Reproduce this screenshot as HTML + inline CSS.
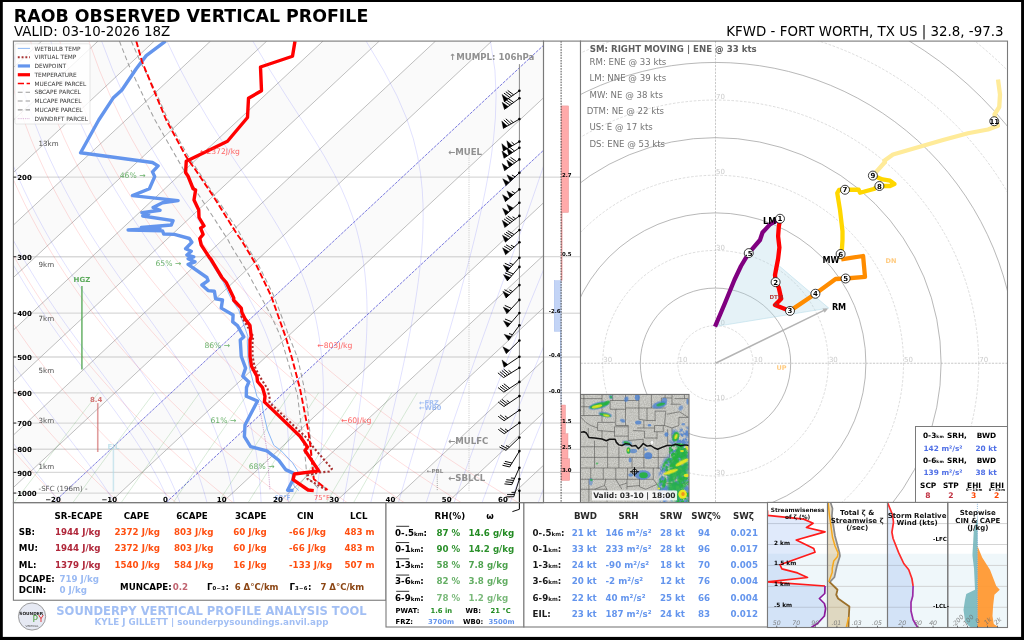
<!DOCTYPE html>
<html lang="en"><head><meta charset="utf-8"><title>SounderPy Vertical Profile</title>
<style>html,body{margin:0;padding:0;background:#fff;overflow:hidden}svg{display:block}text{font-family:"DejaVu Sans","Liberation Sans",sans-serif}</style></head>
<body>
<svg width="1024" height="640" viewBox="0 0 1024 640">
<rect x="0" y="0" width="1024" height="640" fill="#000" stroke="none" stroke-width="1"/>
<rect x="2.8" y="2" width="1018.3" height="634.9" fill="#fff" stroke="none" stroke-width="1"/>
<text x="13.8" y="22.3" font-size="17.4" fill="#000" font-weight="bold">RAOB OBSERVED VERTICAL PROFILE</text>
<text x="14" y="36.3" font-size="13.4" fill="#000">VALID: 03-10-2026 18Z</text>
<text x="1003.5" y="36.3" font-size="13.4" fill="#000" text-anchor="end">KFWD - FORT WORTH, TX US | 32.8, -97.3</text>
<defs><clipPath id="skc"><rect x="13.4" y="41.1" width="530.1" height="461.55"/></clipPath></defs>
<g clip-path="url(#skc)">
<path d="M-621.55 502.65 L-565.3 502.65 L-70.72 41.08 L-126.97 41.08 Z" fill="#fafafa" stroke="none" stroke-width="1"/>
<path d="M-509.05 502.65 L-452.8 502.65 L41.78 41.08 L-14.47 41.08 Z" fill="#fafafa" stroke="none" stroke-width="1"/>
<path d="M-396.55 502.65 L-340.3 502.65 L154.28 41.08 L98.03 41.08 Z" fill="#fafafa" stroke="none" stroke-width="1"/>
<path d="M-284.05 502.65 L-227.8 502.65 L266.78 41.08 L210.53 41.08 Z" fill="#fafafa" stroke="none" stroke-width="1"/>
<path d="M-171.55 502.65 L-115.3 502.65 L379.28 41.08 L323.03 41.08 Z" fill="#fafafa" stroke="none" stroke-width="1"/>
<path d="M-59.05 502.65 L-2.8 502.65 L491.78 41.08 L435.53 41.08 Z" fill="#fafafa" stroke="none" stroke-width="1"/>
<path d="M53.45 502.65 L109.7 502.65 L604.28 41.08 L548.03 41.08 Z" fill="#fafafa" stroke="none" stroke-width="1"/>
<path d="M165.95 502.65 L222.2 502.65 L716.78 41.08 L660.53 41.08 Z" fill="#fafafa" stroke="none" stroke-width="1"/>
<path d="M278.45 502.65 L334.7 502.65 L829.28 41.08 L773.03 41.08 Z" fill="#fafafa" stroke="none" stroke-width="1"/>
<path d="M390.95 502.65 L447.2 502.65 L941.78 41.08 L885.53 41.08 Z" fill="#fafafa" stroke="none" stroke-width="1"/>
<path d="M503.45 502.65 L559.7 502.65 L1054.28 41.08 L998.03 41.08 Z" fill="#fafafa" stroke="none" stroke-width="1"/>
<line x1="13.4" y1="493.07" x2="543.5" y2="493.07" stroke="#d9d9d9" stroke-width="1.3"/>
<line x1="13.4" y1="472.39" x2="543.5" y2="472.39" stroke="#d9d9d9" stroke-width="1.3"/>
<line x1="13.4" y1="449.27" x2="543.5" y2="449.27" stroke="#d9d9d9" stroke-width="1.3"/>
<line x1="13.4" y1="423.06" x2="543.5" y2="423.06" stroke="#d9d9d9" stroke-width="1.3"/>
<line x1="13.4" y1="392.8" x2="543.5" y2="392.8" stroke="#d9d9d9" stroke-width="1.3"/>
<line x1="13.4" y1="357.01" x2="543.5" y2="357.01" stroke="#d9d9d9" stroke-width="1.3"/>
<line x1="13.4" y1="313.2" x2="543.5" y2="313.2" stroke="#d9d9d9" stroke-width="1.3"/>
<line x1="13.4" y1="256.73" x2="543.5" y2="256.73" stroke="#d9d9d9" stroke-width="1.3"/>
<line x1="13.4" y1="177.14" x2="543.5" y2="177.14" stroke="#d9d9d9" stroke-width="1.3"/>
<line x1="-677.8" y1="502.65" x2="-183.22" y2="41.08" stroke="#a9a9a9" stroke-width="0.75"/>
<line x1="-621.55" y1="502.65" x2="-126.97" y2="41.08" stroke="#a9a9a9" stroke-width="0.75"/>
<line x1="-565.3" y1="502.65" x2="-70.72" y2="41.08" stroke="#a9a9a9" stroke-width="0.75"/>
<line x1="-509.05" y1="502.65" x2="-14.47" y2="41.08" stroke="#a9a9a9" stroke-width="0.75"/>
<line x1="-452.8" y1="502.65" x2="41.78" y2="41.08" stroke="#a9a9a9" stroke-width="0.75"/>
<line x1="-396.55" y1="502.65" x2="98.03" y2="41.08" stroke="#a9a9a9" stroke-width="0.75"/>
<line x1="-340.3" y1="502.65" x2="154.28" y2="41.08" stroke="#a9a9a9" stroke-width="0.75"/>
<line x1="-284.05" y1="502.65" x2="210.53" y2="41.08" stroke="#a9a9a9" stroke-width="0.75"/>
<line x1="-227.8" y1="502.65" x2="266.78" y2="41.08" stroke="#a9a9a9" stroke-width="0.75"/>
<line x1="-171.55" y1="502.65" x2="323.03" y2="41.08" stroke="#a9a9a9" stroke-width="0.75"/>
<line x1="-115.3" y1="502.65" x2="379.28" y2="41.08" stroke="#a9a9a9" stroke-width="0.75"/>
<line x1="-59.05" y1="502.65" x2="435.53" y2="41.08" stroke="#a9a9a9" stroke-width="0.75"/>
<line x1="-2.8" y1="502.65" x2="491.78" y2="41.08" stroke="#a9a9a9" stroke-width="0.75"/>
<line x1="53.45" y1="502.65" x2="548.03" y2="41.08" stroke="#4646d2" stroke-width="0.9" stroke-dasharray="3.0 1.1" stroke-opacity="0.8"/>
<line x1="109.7" y1="502.65" x2="604.28" y2="41.08" stroke="#a9a9a9" stroke-width="0.75"/>
<line x1="165.95" y1="502.65" x2="660.53" y2="41.08" stroke="#4646d2" stroke-width="0.9" stroke-dasharray="3.0 1.1" stroke-opacity="0.8"/>
<line x1="222.2" y1="502.65" x2="716.78" y2="41.08" stroke="#a9a9a9" stroke-width="0.75"/>
<line x1="278.45" y1="502.65" x2="773.03" y2="41.08" stroke="#a9a9a9" stroke-width="0.75"/>
<line x1="334.7" y1="502.65" x2="829.28" y2="41.08" stroke="#a9a9a9" stroke-width="0.75"/>
<line x1="390.95" y1="502.65" x2="885.53" y2="41.08" stroke="#a9a9a9" stroke-width="0.75"/>
<line x1="447.2" y1="502.65" x2="941.78" y2="41.08" stroke="#a9a9a9" stroke-width="0.75"/>
<line x1="503.45" y1="502.65" x2="998.03" y2="41.08" stroke="#a9a9a9" stroke-width="0.75"/>
<line x1="559.7" y1="502.65" x2="1054.28" y2="41.08" stroke="#a9a9a9" stroke-width="0.75"/>
<path d="M4.99 502.65 L2.18 499.62 L-0.64 496.54 L-3.49 493.4 L-6.35 490.22 L-9.23 486.99 L-12.12 483.7 L-15.03 480.36 L-17.97 476.96 L-20.92 473.5 L-23.88 469.97 L-26.87 466.38 L-29.88 462.73 L-32.9 459.01 L-35.95 455.21 L-39.01 451.34 L-42.1 447.39 L-45.2 443.36 L-48.33 439.24 L-51.47 435.04 L-54.64 430.75 L-57.82 426.36 L-61.03 421.87 L-64.26 417.27 L-67.51 412.56 L-70.78 407.74 L-74.07 402.8 L-77.39 397.73 L-80.72 392.52 L-84.08 387.17 L-87.45 381.68 L-90.85 376.02 L-94.26 370.2 L-97.7 364.19 L-101.15 358 L-104.62 351.61 L-108.11 345 L-111.61 338.17 L-115.12 331.08 L-118.65 323.73 L-122.19 316.09 L-125.73 308.15 L-129.27 299.87 L-132.81 291.22 L-136.34 282.18 L-139.86 272.7 L-143.35 262.74 L-146.81 252.25 L-150.23 241.16 L-153.58 229.41 L-156.84 216.91 L-160 203.56 L-163.02 189.24 L-165.85 173.78 L-168.43 157.01 L-170.68 138.67 L-172.51 118.44 L-173.73 95.88 L-174.13 70.38 L-173.35 41.08" fill="none" stroke="#ff0000" stroke-width="0.6" stroke-opacity="0.22"/>
<path d="M62.03 502.65 L58.97 499.62 L55.89 496.54 L52.79 493.4 L49.67 490.22 L46.53 486.99 L43.37 483.7 L40.18 480.36 L36.98 476.96 L33.75 473.5 L30.51 469.97 L27.24 466.38 L23.94 462.73 L20.63 459.01 L17.29 455.21 L13.92 451.34 L10.53 447.39 L7.12 443.36 L3.68 439.24 L0.22 435.04 L-3.27 430.75 L-6.78 426.36 L-10.32 421.87 L-13.89 417.27 L-17.48 412.56 L-21.1 407.74 L-24.75 402.8 L-28.43 397.73 L-32.13 392.52 L-35.86 387.17 L-39.62 381.68 L-43.41 376.02 L-47.22 370.2 L-51.07 364.19 L-54.94 358 L-58.84 351.61 L-62.76 345 L-66.71 338.17 L-70.69 331.08 L-74.69 323.73 L-78.71 316.09 L-82.75 308.15 L-86.81 299.87 L-90.88 291.22 L-94.96 282.18 L-99.04 272.7 L-103.12 262.74 L-107.19 252.25 L-111.24 241.16 L-115.25 229.41 L-119.21 216.91 L-123.09 203.56 L-126.87 189.24 L-130.5 173.78 L-133.94 157.01 L-137.1 138.67 L-139.9 118.44 L-142.18 95.88 L-143.73 70.38 L-144.21 41.08" fill="none" stroke="#ff0000" stroke-width="0.6" stroke-opacity="0.22"/>
<path d="M119.07 502.65 L115.76 499.62 L112.42 496.54 L109.07 493.4 L105.69 490.22 L102.28 486.99 L98.86 483.7 L95.4 480.36 L91.93 476.96 L88.42 473.5 L84.9 469.97 L81.34 466.38 L77.76 462.73 L74.16 459.01 L70.52 455.21 L66.86 451.34 L63.17 447.39 L59.45 443.36 L55.7 439.24 L51.92 435.04 L48.11 430.75 L44.26 426.36 L40.39 421.87 L36.49 417.27 L32.55 412.56 L28.58 407.74 L24.57 402.8 L20.54 397.73 L16.46 392.52 L12.35 387.17 L8.21 381.68 L4.03 376.02 L-0.19 370.2 L-4.44 364.19 L-8.73 358 L-13.05 351.61 L-17.42 345 L-21.82 338.17 L-26.25 331.08 L-30.73 323.73 L-35.23 316.09 L-39.77 308.15 L-44.35 299.87 L-48.95 291.22 L-53.58 282.18 L-58.23 272.7 L-62.9 262.74 L-67.58 252.25 L-72.26 241.16 L-76.93 229.41 L-81.58 216.91 L-86.19 203.56 L-90.72 189.24 L-95.16 173.78 L-99.45 157.01 L-103.52 138.67 L-107.29 118.44 L-110.62 95.88 L-113.32 70.38 L-115.08 41.08" fill="none" stroke="#ff0000" stroke-width="0.6" stroke-opacity="0.22"/>
<path d="M176.11 502.65 L172.55 499.62 L168.96 496.54 L165.34 493.4 L161.7 490.22 L158.04 486.99 L154.34 483.7 L150.62 480.36 L146.87 476.96 L143.09 473.5 L139.29 469.97 L135.45 466.38 L131.58 462.73 L127.68 459.01 L123.75 455.21 L119.79 451.34 L115.8 447.39 L111.77 443.36 L107.71 439.24 L103.61 435.04 L99.48 430.75 L95.31 426.36 L91.1 421.87 L86.86 417.27 L82.58 412.56 L78.26 407.74 L73.9 402.8 L69.5 397.73 L65.05 392.52 L60.57 387.17 L56.04 381.68 L51.47 376.02 L46.85 370.2 L42.19 364.19 L37.48 358 L32.73 351.61 L27.93 345 L23.08 338.17 L18.18 331.08 L13.24 323.73 L8.24 316.09 L3.2 308.15 L-1.88 299.87 L-7.02 291.22 L-12.19 282.18 L-17.41 272.7 L-22.67 262.74 L-27.96 252.25 L-33.27 241.16 L-38.61 229.41 L-43.95 216.91 L-49.28 203.56 L-54.58 189.24 L-59.82 173.78 L-64.96 157.01 L-69.94 138.67 L-74.68 118.44 L-79.07 95.88 L-82.92 70.38 L-85.94 41.08" fill="none" stroke="#ff0000" stroke-width="0.6" stroke-opacity="0.22"/>
<path d="M233.15 502.65 L229.33 499.62 L225.49 496.54 L221.62 493.4 L217.72 490.22 L213.79 486.99 L209.83 483.7 L205.84 480.36 L201.82 476.96 L197.76 473.5 L193.68 469.97 L189.56 466.38 L185.4 462.73 L181.21 459.01 L176.99 455.21 L172.73 451.34 L168.43 447.39 L164.09 443.36 L159.72 439.24 L155.3 435.04 L150.85 430.75 L146.35 426.36 L141.82 421.87 L137.24 417.27 L132.61 412.56 L127.94 407.74 L123.22 402.8 L118.46 397.73 L113.65 392.52 L108.78 387.17 L103.87 381.68 L98.91 376.02 L93.89 370.2 L88.82 364.19 L83.69 358 L78.51 351.61 L73.27 345 L67.97 338.17 L62.62 331.08 L57.2 323.73 L51.72 316.09 L46.18 308.15 L40.58 299.87 L34.91 291.22 L29.19 282.18 L23.4 272.7 L17.56 262.74 L11.66 252.25 L5.71 241.16 L-0.28 229.41 L-6.32 216.91 L-12.37 203.56 L-18.43 189.24 L-24.47 173.78 L-30.47 157.01 L-36.36 138.67 L-42.08 118.44 L-47.52 95.88 L-52.51 70.38 L-56.81 41.08" fill="none" stroke="#ff0000" stroke-width="0.6" stroke-opacity="0.22"/>
<path d="M290.19 502.65 L286.12 499.62 L282.03 496.54 L277.9 493.4 L273.74 490.22 L269.55 486.99 L265.32 483.7 L261.06 480.36 L256.76 476.96 L252.43 473.5 L248.07 469.97 L243.66 466.38 L239.22 462.73 L234.74 459.01 L230.22 455.21 L225.66 451.34 L221.06 447.39 L216.42 443.36 L211.73 439.24 L207 435.04 L202.22 430.75 L197.4 426.36 L192.53 421.87 L187.61 417.27 L182.64 412.56 L177.62 407.74 L172.55 402.8 L167.42 397.73 L162.24 392.52 L157 387.17 L151.7 381.68 L146.35 376.02 L140.93 370.2 L135.45 364.19 L129.9 358 L124.29 351.61 L118.62 345 L112.87 338.17 L107.05 331.08 L101.16 323.73 L95.2 316.09 L89.16 308.15 L83.04 299.87 L76.84 291.22 L70.57 282.18 L64.22 272.7 L57.79 262.74 L51.28 252.25 L44.69 241.16 L38.04 229.41 L31.32 216.91 L24.54 203.56 L17.72 189.24 L10.87 173.78 L4.02 157.01 L-2.78 138.67 L-9.47 118.44 L-15.96 95.88 L-22.11 70.38 L-27.67 41.08" fill="none" stroke="#ff0000" stroke-width="0.6" stroke-opacity="0.22"/>
<path d="M347.23 502.65 L342.91 499.62 L338.56 496.54 L334.18 493.4 L329.76 490.22 L325.3 486.99 L320.81 483.7 L316.28 480.36 L311.71 476.96 L307.1 473.5 L302.46 469.97 L297.77 466.38 L293.04 462.73 L288.27 459.01 L283.46 455.21 L278.6 451.34 L273.69 447.39 L268.74 443.36 L263.74 439.24 L258.69 435.04 L253.59 430.75 L248.44 426.36 L243.24 421.87 L237.98 417.27 L232.67 412.56 L227.3 407.74 L221.87 402.8 L216.38 397.73 L210.83 392.52 L205.21 387.17 L199.53 381.68 L193.79 376.02 L187.97 370.2 L182.08 364.19 L176.12 358 L170.08 351.61 L163.96 345 L157.77 338.17 L151.49 331.08 L145.12 323.73 L138.67 316.09 L132.13 308.15 L125.5 299.87 L118.78 291.22 L111.95 282.18 L105.03 272.7 L98.02 262.74 L90.9 252.25 L83.68 241.16 L76.36 229.41 L68.95 216.91 L61.45 203.56 L53.86 189.24 L46.21 173.78 L38.51 157.01 L30.81 138.67 L23.14 118.44 L15.59 95.88 L8.3 70.38 L1.46 41.08" fill="none" stroke="#ff0000" stroke-width="0.6" stroke-opacity="0.22"/>
<path d="M404.27 502.65 L399.7 499.62 L395.1 496.54 L390.45 493.4 L385.77 490.22 L381.05 486.99 L376.3 483.7 L371.5 480.36 L366.66 476.96 L361.77 473.5 L356.85 469.97 L351.88 466.38 L346.86 462.73 L341.8 459.01 L336.69 455.21 L331.53 451.34 L326.32 447.39 L321.06 443.36 L315.75 439.24 L310.39 435.04 L304.97 430.75 L299.49 426.36 L293.95 421.87 L288.36 417.27 L282.7 412.56 L276.98 407.74 L271.2 402.8 L265.34 397.73 L259.42 392.52 L253.43 387.17 L247.36 381.68 L241.22 376.02 L235.01 370.2 L228.71 364.19 L222.33 358 L215.86 351.61 L209.31 345 L202.66 338.17 L195.92 331.08 L189.09 323.73 L182.15 316.09 L175.11 308.15 L167.96 299.87 L160.71 291.22 L153.34 282.18 L145.85 272.7 L138.24 262.74 L130.52 252.25 L122.66 241.16 L114.69 229.41 L106.58 216.91 L98.35 203.56 L90.01 189.24 L81.55 173.78 L73.01 157.01 L64.39 138.67 L55.75 118.44 L47.15 95.88 L38.7 70.38 L30.6 41.08" fill="none" stroke="#ff0000" stroke-width="0.6" stroke-opacity="0.22"/>
<path d="M461.31 502.65 L456.49 499.62 L451.63 496.54 L446.73 493.4 L441.79 490.22 L436.81 486.99 L431.78 483.7 L426.72 480.36 L421.6 476.96 L416.44 473.5 L411.24 469.97 L405.98 466.38 L400.68 462.73 L395.33 459.01 L389.92 455.21 L384.47 451.34 L378.96 447.39 L373.39 443.36 L367.76 439.24 L362.08 435.04 L356.34 430.75 L350.53 426.36 L344.67 421.87 L338.73 417.27 L332.73 412.56 L326.66 407.74 L320.52 402.8 L314.3 397.73 L308.01 392.52 L301.64 387.17 L295.2 381.68 L288.66 376.02 L282.04 370.2 L275.34 364.19 L268.54 358 L261.64 351.61 L254.65 345 L247.56 338.17 L240.36 331.08 L233.05 323.73 L225.63 316.09 L218.09 308.15 L210.43 299.87 L202.64 291.22 L194.72 282.18 L186.67 272.7 L178.47 262.74 L170.13 252.25 L161.65 241.16 L153.01 229.41 L144.21 216.91 L135.26 203.56 L126.16 189.24 L116.9 173.78 L107.5 157.01 L97.97 138.67 L88.35 118.44 L78.7 95.88 L69.11 70.38 L59.73 41.08" fill="none" stroke="#ff0000" stroke-width="0.6" stroke-opacity="0.22"/>
<path d="M518.35 502.65 L513.28 499.62 L508.16 496.54 L503.01 493.4 L497.81 490.22 L492.56 486.99 L487.27 483.7 L481.93 480.36 L476.55 476.96 L471.11 473.5 L465.63 469.97 L460.09 466.38 L454.5 462.73 L448.86 459.01 L443.16 455.21 L437.4 451.34 L431.59 447.39 L425.71 443.36 L419.78 439.24 L413.78 435.04 L407.71 430.75 L401.58 426.36 L395.38 421.87 L389.11 417.27 L382.76 412.56 L376.34 407.74 L369.84 402.8 L363.27 397.73 L356.61 392.52 L349.86 387.17 L343.03 381.68 L336.1 376.02 L329.08 370.2 L321.97 364.19 L314.75 358 L307.43 351.61 L300 345 L292.45 338.17 L284.79 331.08 L277.01 323.73 L269.1 316.09 L261.06 308.15 L252.89 299.87 L244.57 291.22 L236.1 282.18 L227.48 272.7 L218.7 262.74 L209.75 252.25 L200.63 241.16 L191.33 229.41 L181.85 216.91 L172.17 203.56 L162.3 189.24 L152.24 173.78 L141.99 157.01 L131.55 138.67 L120.96 118.44 L110.25 95.88 L99.51 70.38 L88.87 41.08" fill="none" stroke="#ff0000" stroke-width="0.6" stroke-opacity="0.22"/>
<path d="M3.96 502.65 L1.5 499.62 L-0.99 496.54 L-3.52 493.4 L-6.08 490.22 L-8.69 486.99 L-11.33 483.7 L-14 480.36 L-16.71 476.96 L-19.45 473.5 L-22.23 469.97 L-25.05 466.38 L-27.89 462.73 L-30.78 459.01 L-33.69 455.21 L-36.64 451.34 L-39.62 447.39 L-42.63 443.36 L-45.67 439.24 L-48.74 435.04 L-51.85 430.75 L-54.98 426.36 L-58.14 421.87 L-61.34 417.27 L-64.56 412.56 L-67.8 407.74 L-71.08 402.8 L-74.38 397.73 L-77.71 392.52 L-81.06 387.17 L-84.44 381.68 L-87.84 376.02 L-91.27 370.2 L-94.72 364.19 L-98.18 358 L-101.67 351.61 L-105.18 345 L-108.71 338.17 L-112.25 331.08 L-115.8 323.73 L-119.37 316.09 L-122.94 308.15 L-126.51 299.87 L-130.09 291.22 L-133.65 282.18 L-137.21 272.7 L-140.74 262.74 L-144.24 252.25 L-147.69 241.16 L-151.08 229.41 L-154.4 216.91 L-157.6 203.56 L-160.67 189.24 L-163.55 173.78 L-166.18 157.01 L-168.5 138.67 L-170.38 118.44 L-171.68 95.88 L-172.15 70.38 L-171.45 41.08" fill="none" stroke="#0000ff" stroke-width="0.6" stroke-opacity="0.2"/>
<path d="M59.78 502.65 L57.48 499.62 L55.13 496.54 L52.72 493.4 L50.26 490.22 L47.74 486.99 L45.17 483.7 L42.55 480.36 L39.87 476.96 L37.13 473.5 L34.35 469.97 L31.5 466.38 L28.61 462.73 L25.66 459.01 L22.66 455.21 L19.6 451.34 L16.5 447.39 L13.34 443.36 L10.13 439.24 L6.87 435.04 L3.56 430.75 L0.21 426.36 L-3.2 421.87 L-6.65 417.27 L-10.14 412.56 L-13.68 407.74 L-17.27 402.8 L-20.9 397.73 L-24.57 392.52 L-28.28 387.17 L-32.03 381.68 L-35.82 376.02 L-39.65 370.2 L-43.52 364.19 L-47.42 358 L-51.36 351.61 L-55.33 345 L-59.34 338.17 L-63.37 331.08 L-67.44 323.73 L-71.53 316.09 L-75.64 308.15 L-79.78 299.87 L-83.93 291.22 L-88.1 282.18 L-92.28 272.7 L-96.45 262.74 L-100.62 252.25 L-104.78 241.16 L-108.9 229.41 L-112.97 216.91 L-116.97 203.56 L-120.87 189.24 L-124.64 173.78 L-128.22 157.01 L-131.53 138.67 L-134.49 118.44 L-136.94 95.88 L-138.68 70.38 L-139.38 41.08" fill="none" stroke="#0000ff" stroke-width="0.6" stroke-opacity="0.2"/>
<path d="M114.82 502.65 L112.92 499.62 L110.96 496.54 L108.93 493.4 L106.83 490.22 L104.67 486.99 L102.44 483.7 L100.13 480.36 L97.76 476.96 L95.3 473.5 L92.78 469.97 L90.17 466.38 L87.49 462.73 L84.73 459.01 L81.9 455.21 L78.98 451.34 L75.98 447.39 L72.9 443.36 L69.74 439.24 L66.5 435.04 L63.18 430.75 L59.78 426.36 L56.3 421.87 L52.74 417.27 L49.1 412.56 L45.39 407.74 L41.61 402.8 L37.75 397.73 L33.82 392.52 L29.82 387.17 L25.75 381.68 L21.61 376.02 L17.41 370.2 L13.14 364.19 L8.82 358 L4.43 351.61 L-0.01 345 L-4.52 338.17 L-9.07 331.08 L-13.68 323.73 L-18.33 316.09 L-23.04 308.15 L-27.79 299.87 L-32.58 291.22 L-37.41 282.18 L-42.27 272.7 L-47.16 262.74 L-52.07 252.25 L-57 241.16 L-61.93 229.41 L-66.85 216.91 L-71.74 203.56 L-76.57 189.24 L-81.32 173.78 L-85.94 157.01 L-90.37 138.67 L-94.52 118.44 L-98.27 95.88 L-101.42 70.38 L-103.67 41.08" fill="none" stroke="#0000ff" stroke-width="0.6" stroke-opacity="0.2"/>
<path d="M169.17 502.65 L167.87 499.62 L166.52 496.54 L165.11 493.4 L163.64 490.22 L162.11 486.99 L160.5 483.7 L158.83 480.36 L157.08 476.96 L155.25 473.5 L153.34 469.97 L151.34 466.38 L149.26 462.73 L147.09 459.01 L144.82 455.21 L142.45 451.34 L139.98 447.39 L137.4 443.36 L134.72 439.24 L131.92 435.04 L129.01 430.75 L125.98 426.36 L122.83 421.87 L119.55 417.27 L116.16 412.56 L112.64 407.74 L108.99 402.8 L105.22 397.73 L101.32 392.52 L97.29 387.17 L93.14 381.68 L88.87 376.02 L84.48 370.2 L79.97 364.19 L75.34 358 L70.6 351.61 L65.76 345 L60.8 338.17 L55.75 331.08 L50.59 323.73 L45.35 316.09 L40.01 308.15 L34.58 299.87 L29.08 291.22 L23.49 282.18 L17.83 272.7 L12.1 262.74 L6.31 252.25 L0.47 241.16 L-5.43 229.41 L-11.36 216.91 L-17.31 203.56 L-23.26 189.24 L-29.2 173.78 L-35.07 157.01 L-40.84 138.67 L-46.43 118.44 L-51.73 95.88 L-56.58 70.38 L-60.7 41.08" fill="none" stroke="#0000ff" stroke-width="0.6" stroke-opacity="0.2"/>
<path d="M179.98 502.65 L178.83 499.62 L177.62 496.54 L176.35 493.4 L175.02 490.22 L173.64 486.99 L172.18 483.7 L170.66 480.36 L169.07 476.96 L167.4 473.5 L165.66 469.97 L163.83 466.38 L161.91 462.73 L159.9 459.01 L157.8 455.21 L155.6 451.34 L153.29 447.39 L150.88 443.36 L148.36 439.24 L145.72 435.04 L142.97 430.75 L140.09 426.36 L137.08 421.87 L133.94 417.27 L130.68 412.56 L127.27 407.74 L123.73 402.8 L120.06 397.73 L116.24 392.52 L112.28 387.17 L108.18 381.68 L103.95 376.02 L99.58 370.2 L95.07 364.19 L90.43 358 L85.67 351.61 L80.77 345 L75.76 338.17 L70.62 331.08 L65.37 323.73 L60.02 316.09 L54.56 308.15 L49 299.87 L43.34 291.22 L37.59 282.18 L31.76 272.7 L25.84 262.74 L19.86 252.25 L13.8 241.16 L7.69 229.41 L1.53 216.91 L-4.67 203.56 L-10.89 189.24 L-17.1 173.78 L-23.26 157.01 L-29.34 138.67 L-35.27 118.44 L-40.93 95.88 L-46.16 70.38 L-50.72 41.08" fill="none" stroke="#0000ff" stroke-width="0.6" stroke-opacity="0.2"/>
<path d="M207 502.65 L206.19 499.62 L205.33 496.54 L204.43 493.4 L203.49 490.22 L202.49 486.99 L201.44 483.7 L200.33 480.36 L199.15 476.96 L197.92 473.5 L196.61 469.97 L195.24 466.38 L193.78 462.73 L192.25 459.01 L190.62 455.21 L188.91 451.34 L187.1 447.39 L185.19 443.36 L183.17 439.24 L181.03 435.04 L178.78 430.75 L176.4 426.36 L173.89 421.87 L171.23 417.27 L168.44 412.56 L165.49 407.74 L162.38 402.8 L159.11 397.73 L155.68 392.52 L152.07 387.17 L148.28 381.68 L144.31 376.02 L140.16 370.2 L135.83 364.19 L131.32 358 L126.62 351.61 L121.74 345 L116.68 338.17 L111.45 331.08 L106.06 323.73 L100.49 316.09 L94.78 308.15 L88.91 299.87 L82.9 291.22 L76.75 282.18 L70.47 272.7 L64.07 262.74 L57.56 252.25 L50.94 241.16 L44.23 229.41 L37.43 216.91 L30.55 203.56 L23.62 189.24 L16.65 173.78 L9.67 157.01 L2.72 138.67 L-4.13 118.44 L-10.79 95.88 L-17.13 70.38 L-22.9 41.08" fill="none" stroke="#0000ff" stroke-width="0.6" stroke-opacity="0.2"/>
<path d="M234.03 502.65 L233.56 499.62 L233.06 496.54 L232.52 493.4 L231.95 490.22 L231.34 486.99 L230.69 483.7 L230 480.36 L229.26 476.96 L228.47 473.5 L227.63 469.97 L226.74 466.38 L225.78 462.73 L224.76 459.01 L223.66 455.21 L222.5 451.34 L221.25 447.39 L219.92 443.36 L218.5 439.24 L216.98 435.04 L215.36 430.75 L213.62 426.36 L211.76 421.87 L209.78 417.27 L207.66 412.56 L205.39 407.74 L202.96 402.8 L200.37 397.73 L197.6 392.52 L194.64 387.17 L191.49 381.68 L188.13 376.02 L184.55 370.2 L180.74 364.19 L176.7 358 L172.42 351.61 L167.9 345 L163.12 338.17 L158.1 331.08 L152.82 323.73 L147.29 316.09 L141.52 308.15 L135.51 299.87 L129.28 291.22 L122.82 282.18 L116.16 272.7 L109.3 262.74 L102.26 252.25 L95.04 241.16 L87.67 229.41 L80.15 216.91 L72.49 203.56 L64.72 189.24 L56.85 173.78 L48.92 157.01 L40.94 138.67 L32.98 118.44 L25.12 95.88 L17.48 70.38 L10.26 41.08" fill="none" stroke="#0000ff" stroke-width="0.6" stroke-opacity="0.2"/>
<path d="M261.12 502.65 L260.97 499.62 L260.8 496.54 L260.61 493.4 L260.39 490.22 L260.15 486.99 L259.89 483.7 L259.59 480.36 L259.27 476.96 L258.91 473.5 L258.52 469.97 L258.09 466.38 L257.62 462.73 L257.1 459.01 L256.54 455.21 L255.92 451.34 L255.25 447.39 L254.52 443.36 L253.72 439.24 L252.85 435.04 L251.91 430.75 L250.88 426.36 L249.76 421.87 L248.54 417.27 L247.21 412.56 L245.76 407.74 L244.18 402.8 L242.47 397.73 L240.6 392.52 L238.57 387.17 L236.36 381.68 L233.95 376.02 L231.33 370.2 L228.48 364.19 L225.39 358 L222.03 351.61 L218.39 345 L214.44 338.17 L210.18 331.08 L205.58 323.73 L200.64 316.09 L195.34 308.15 L189.68 299.87 L183.66 291.22 L177.27 282.18 L170.53 272.7 L163.45 262.74 L156.05 252.25 L148.34 241.16 L140.34 229.41 L132.08 216.91 L123.57 203.56 L114.85 189.24 L105.94 173.78 L96.86 157.01 L87.65 138.67 L78.35 118.44 L69.02 95.88 L59.78 70.38 L50.8 41.08" fill="none" stroke="#0000ff" stroke-width="0.6" stroke-opacity="0.2"/>
<path d="M288.33 502.65 L288.46 499.62 L288.59 496.54 L288.7 493.4 L288.8 490.22 L288.89 486.99 L288.97 483.7 L289.04 480.36 L289.08 476.96 L289.12 473.5 L289.13 469.97 L289.12 466.38 L289.09 462.73 L289.04 459.01 L288.95 455.21 L288.84 451.34 L288.7 447.39 L288.53 443.36 L288.31 439.24 L288.05 435.04 L287.75 430.75 L287.4 426.36 L286.98 421.87 L286.51 417.27 L285.97 412.56 L285.35 407.74 L284.65 402.8 L283.86 397.73 L282.96 392.52 L281.95 387.17 L280.81 381.68 L279.54 376.02 L278.1 370.2 L276.48 364.19 L274.68 358 L272.65 351.61 L270.38 345 L267.83 338.17 L264.99 331.08 L261.81 323.73 L258.27 316.09 L254.32 308.15 L249.92 299.87 L245.06 291.22 L239.68 282.18 L233.77 272.7 L227.31 262.74 L220.28 252.25 L212.69 241.16 L204.55 229.41 L195.89 216.91 L186.73 203.56 L177.13 189.24 L167.13 173.78 L156.76 157.01 L146.09 138.67 L135.16 118.44 L124.03 95.88 L112.8 70.38 L101.61 41.08" fill="none" stroke="#0000ff" stroke-width="0.6" stroke-opacity="0.2"/>
<path d="M315.66 502.65 L316.04 499.62 L316.42 496.54 L316.8 493.4 L317.17 490.22 L317.55 486.99 L317.92 483.7 L318.29 480.36 L318.66 476.96 L319.02 473.5 L319.38 469.97 L319.74 466.38 L320.08 462.73 L320.42 459.01 L320.75 455.21 L321.08 451.34 L321.39 447.39 L321.68 443.36 L321.97 439.24 L322.23 435.04 L322.48 430.75 L322.71 426.36 L322.91 421.87 L323.09 417.27 L323.23 412.56 L323.34 407.74 L323.42 402.8 L323.44 397.73 L323.42 392.52 L323.33 387.17 L323.19 381.68 L322.96 376.02 L322.66 370.2 L322.25 364.19 L321.73 358 L321.09 351.61 L320.3 345 L319.34 338.17 L318.18 331.08 L316.8 323.73 L315.17 316.09 L313.23 308.15 L310.94 299.87 L308.25 291.22 L305.09 282.18 L301.4 272.7 L297.09 262.74 L292.09 252.25 L286.31 241.16 L279.68 229.41 L272.14 216.91 L263.64 203.56 L254.18 189.24 L243.8 173.78 L232.55 157.01 L220.52 138.67 L207.83 118.44 L194.58 95.88 L180.89 70.38 L166.9 41.08" fill="none" stroke="#0000ff" stroke-width="0.6" stroke-opacity="0.2"/>
<path d="M343.13 502.65 L343.71 499.62 L344.3 496.54 L344.9 493.4 L345.5 490.22 L346.11 486.99 L346.73 483.7 L347.35 480.36 L347.98 476.96 L348.62 473.5 L349.26 469.97 L349.91 466.38 L350.57 462.73 L351.23 459.01 L351.89 455.21 L352.56 451.34 L353.24 447.39 L353.92 443.36 L354.61 439.24 L355.3 435.04 L355.99 430.75 L356.68 426.36 L357.37 421.87 L358.07 417.27 L358.76 412.56 L359.45 407.74 L360.14 402.8 L360.82 397.73 L361.49 392.52 L362.15 387.17 L362.79 381.68 L363.42 376.02 L364.02 370.2 L364.59 364.19 L365.13 358 L365.62 351.61 L366.07 345 L366.45 338.17 L366.75 331.08 L366.96 323.73 L367.06 316.09 L367.03 308.15 L366.83 299.87 L366.43 291.22 L365.79 282.18 L364.85 272.7 L363.55 262.74 L361.8 252.25 L359.49 241.16 L356.5 229.41 L352.66 216.91 L347.79 203.56 L341.67 189.24 L334.08 173.78 L324.8 157.01 L313.72 138.67 L300.8 118.44 L286.17 95.88 L270.08 70.38 L252.81 41.08" fill="none" stroke="#0000ff" stroke-width="0.6" stroke-opacity="0.2"/>
<path d="M370.72 502.65 L371.47 499.62 L372.23 496.54 L373.01 493.4 L373.79 490.22 L374.59 486.99 L375.4 483.7 L376.23 480.36 L377.07 476.96 L377.92 473.5 L378.79 469.97 L379.67 466.38 L380.57 462.73 L381.48 459.01 L382.41 455.21 L383.35 451.34 L384.31 447.39 L385.29 443.36 L386.29 439.24 L387.3 435.04 L388.33 430.75 L389.38 426.36 L390.45 421.87 L391.54 417.27 L392.65 412.56 L393.77 407.74 L394.92 402.8 L396.09 397.73 L397.28 392.52 L398.49 387.17 L399.72 381.68 L400.96 376.02 L402.23 370.2 L403.52 364.19 L404.83 358 L406.15 351.61 L407.48 345 L408.83 338.17 L410.19 331.08 L411.55 323.73 L412.92 316.09 L414.27 308.15 L415.61 299.87 L416.92 291.22 L418.19 282.18 L419.4 272.7 L420.51 262.74 L421.5 252.25 L422.32 241.16 L422.9 229.41 L423.16 216.91 L422.98 203.56 L422.19 189.24 L420.55 173.78 L417.75 157.01 L413.31 138.67 L406.63 118.44 L396.96 95.88 L383.57 70.38 L366.08 41.08" fill="none" stroke="#0000ff" stroke-width="0.6" stroke-opacity="0.2"/>
<path d="M398.42 502.65 L399.31 499.62 L400.2 496.54 L401.12 493.4 L402.04 490.22 L402.99 486.99 L403.95 483.7 L404.94 480.36 L405.94 476.96 L406.96 473.5 L408 469.97 L409.06 466.38 L410.14 462.73 L411.25 459.01 L412.37 455.21 L413.53 451.34 L414.7 447.39 L415.9 443.36 L417.13 439.24 L418.39 435.04 L419.67 430.75 L420.99 426.36 L422.33 421.87 L423.71 417.27 L425.12 412.56 L426.56 407.74 L428.05 402.8 L429.56 397.73 L431.12 392.52 L432.72 387.17 L434.37 381.68 L436.06 376.02 L437.79 370.2 L439.58 364.19 L441.41 358 L443.3 351.61 L445.25 345 L447.26 338.17 L449.33 331.08 L451.46 323.73 L453.66 316.09 L455.93 308.15 L458.27 299.87 L460.68 291.22 L463.18 282.18 L465.75 272.7 L468.4 262.74 L471.12 252.25 L473.92 241.16 L476.79 229.41 L479.71 216.91 L482.66 203.56 L485.59 189.24 L488.47 173.78 L491.17 157.01 L493.56 138.67 L495.35 118.44 L496.08 95.88 L494.94 70.38 L490.43 41.08" fill="none" stroke="#0000ff" stroke-width="0.6" stroke-opacity="0.2"/>
<path d="M426.23 502.65 L427.21 499.62 L428.21 496.54 L429.23 493.4 L430.27 490.22 L431.32 486.99 L432.4 483.7 L433.5 480.36 L434.62 476.96 L435.77 473.5 L436.94 469.97 L438.13 466.38 L439.35 462.73 L440.6 459.01 L441.87 455.21 L443.18 451.34 L444.51 447.39 L445.88 443.36 L447.27 439.24 L448.7 435.04 L450.17 430.75 L451.68 426.36 L453.22 421.87 L454.8 417.27 L456.43 412.56 L458.1 407.74 L459.82 402.8 L461.59 397.73 L463.41 392.52 L465.28 387.17 L467.21 381.68 L469.2 376.02 L471.26 370.2 L473.38 364.19 L475.58 358 L477.85 351.61 L480.2 345 L482.64 338.17 L485.17 331.08 L487.81 323.73 L490.54 316.09 L493.39 308.15 L496.37 299.87 L499.47 291.22 L502.72 282.18 L506.13 272.7 L509.7 262.74 L513.45 252.25 L517.41 241.16 L521.59 229.41 L526 216.91 L530.68 203.56 L535.65 189.24 L540.94 173.78 L546.58 157.01 L552.6 138.67 L559.01 118.44 L565.81 95.88 L572.94 70.38 L580.19 41.08" fill="none" stroke="#0000ff" stroke-width="0.6" stroke-opacity="0.2"/>
<path d="M454.13 502.65 L455.18 499.62 L456.25 496.54 L457.35 493.4 L458.46 490.22 L459.6 486.99 L460.76 483.7 L461.95 480.36 L463.15 476.96 L464.39 473.5 L465.65 469.97 L466.94 466.38 L468.26 462.73 L469.61 459.01 L470.99 455.21 L472.4 451.34 L473.84 447.39 L475.32 443.36 L476.84 439.24 L478.4 435.04 L479.99 430.75 L481.63 426.36 L483.31 421.87 L485.04 417.27 L486.82 412.56 L488.64 407.74 L490.52 402.8 L492.46 397.73 L494.46 392.52 L496.52 387.17 L498.64 381.68 L500.84 376.02 L503.11 370.2 L505.46 364.19 L507.89 358 L510.41 351.61 L513.03 345 L515.76 338.17 L518.59 331.08 L521.54 323.73 L524.62 316.09 L527.84 308.15 L531.21 299.87 L534.75 291.22 L538.46 282.18 L542.37 272.7 L546.49 262.74 L550.86 252.25 L555.48 241.16 L560.41 229.41 L565.67 216.91 L571.31 203.56 L577.38 189.24 L583.94 173.78 L591.08 157.01 L598.89 138.67 L607.5 118.44 L617.08 95.88 L627.85 70.38 L640.08 41.08" fill="none" stroke="#0000ff" stroke-width="0.6" stroke-opacity="0.2"/>
<path d="M482.09 502.65 L483.19 499.62 L484.32 496.54 L485.47 493.4 L486.63 490.22 L487.83 486.99 L489.05 483.7 L490.29 480.36 L491.56 476.96 L492.86 473.5 L494.18 469.97 L495.54 466.38 L496.92 462.73 L498.34 459.01 L499.79 455.21 L501.27 451.34 L502.79 447.39 L504.35 443.36 L505.95 439.24 L507.59 435.04 L509.27 430.75 L511 426.36 L512.77 421.87 L514.59 417.27 L516.47 412.56 L518.4 407.74 L520.39 402.8 L522.44 397.73 L524.55 392.52 L526.73 387.17 L528.98 381.68 L531.31 376.02 L533.72 370.2 L536.21 364.19 L538.8 358 L541.49 351.61 L544.28 345 L547.18 338.17 L550.2 331.08 L553.36 323.73 L556.65 316.09 L560.1 308.15 L563.71 299.87 L567.51 291.22 L571.5 282.18 L575.72 272.7 L580.17 262.74 L584.9 252.25 L589.92 241.16 L595.28 229.41 L601.02 216.91 L607.2 203.56 L613.87 189.24 L621.13 173.78 L629.06 157.01 L637.8 138.67 L647.53 118.44 L658.46 95.88 L670.9 70.38 L685.32 41.08" fill="none" stroke="#0000ff" stroke-width="0.6" stroke-opacity="0.2"/>
<path d="M510.12 502.65 L511.25 499.62 L512.41 496.54 L513.59 493.4 L514.79 490.22 L516.02 486.99 L517.27 483.7 L518.55 480.36 L519.86 476.96 L521.19 473.5 L522.56 469.97 L523.95 466.38 L525.38 462.73 L526.84 459.01 L528.34 455.21 L529.87 451.34 L531.43 447.39 L533.04 443.36 L534.69 439.24 L536.38 435.04 L538.11 430.75 L539.9 426.36 L541.73 421.87 L543.61 417.27 L545.55 412.56 L547.54 407.74 L549.59 402.8 L551.71 397.73 L553.9 392.52 L556.15 387.17 L558.48 381.68 L560.89 376.02 L563.38 370.2 L565.97 364.19 L568.65 358 L571.43 351.61 L574.32 345 L577.33 338.17 L580.47 331.08 L583.74 323.73 L587.17 316.09 L590.75 308.15 L594.51 299.87 L598.46 291.22 L602.62 282.18 L607.01 272.7 L611.65 262.74 L616.58 252.25 L621.83 241.16 L627.44 229.41 L633.45 216.91 L639.93 203.56 L646.94 189.24 L654.57 173.78 L662.93 157.01 L672.17 138.67 L682.46 118.44 L694.08 95.88 L707.36 70.38 L722.82 41.08" fill="none" stroke="#0000ff" stroke-width="0.6" stroke-opacity="0.2"/>
<path d="M538.19 502.65 L539.34 499.62 L540.51 496.54 L541.71 493.4 L542.93 490.22 L544.18 486.99 L545.45 483.7 L546.75 480.36 L548.07 476.96 L549.43 473.5 L550.81 469.97 L552.23 466.38 L553.68 462.73 L555.16 459.01 L556.68 455.21 L558.23 451.34 L559.83 447.39 L561.46 443.36 L563.13 439.24 L564.85 435.04 L566.61 430.75 L568.42 426.36 L570.29 421.87 L572.2 417.27 L574.17 412.56 L576.19 407.74 L578.28 402.8 L580.44 397.73 L582.66 392.52 L584.95 387.17 L587.32 381.68 L589.77 376.02 L592.31 370.2 L594.94 364.19 L597.67 358 L600.51 351.61 L603.45 345 L606.52 338.17 L609.72 331.08 L613.05 323.73 L616.54 316.09 L620.2 308.15 L624.03 299.87 L628.06 291.22 L632.31 282.18 L636.8 272.7 L641.54 262.74 L646.58 252.25 L651.95 241.16 L657.68 229.41 L663.84 216.91 L670.47 203.56 L677.65 189.24 L685.47 173.78 L694.05 157.01 L703.54 138.67 L714.12 118.44 L726.07 95.88 L739.76 70.38 L755.72 41.08" fill="none" stroke="#0000ff" stroke-width="0.6" stroke-opacity="0.2"/>
<path d="M14.08 502.65 L17.48 498.17 L20.97 493.59 L24.54 488.9 L28.2 484.09 L31.96 479.16 L35.82 474.1 L39.78 468.92 L43.86 463.59 L48.06 458.11 L52.38 452.47 L56.83 446.67 L61.43 440.69 L66.18 434.52 L71.08 428.16 L76.16 421.58 L81.42 414.77 L86.87 407.71 L92.54 400.4 L98.43 392.8" fill="none" stroke="#008000" stroke-width="0.6" stroke-opacity="0.25"/>
<path d="M72.88 502.65 L76.14 498.17 L79.49 493.59 L82.91 488.9 L86.43 484.09 L90.04 479.16 L93.75 474.1 L97.55 468.92 L101.47 463.59 L105.5 458.11 L109.66 452.47 L113.94 446.67 L118.36 440.69 L122.92 434.52 L127.64 428.16 L132.53 421.58 L137.59 414.77 L142.84 407.71 L148.3 400.4 L153.98 392.8" fill="none" stroke="#008000" stroke-width="0.6" stroke-opacity="0.25"/>
<path d="M121.21 502.65 L124.35 498.17 L127.58 493.59 L130.88 488.9 L134.27 484.09 L137.75 479.16 L141.33 474.1 L145 468.92 L148.79 463.59 L152.68 458.11 L156.69 452.47 L160.82 446.67 L165.09 440.69 L169.5 434.52 L174.06 428.16 L178.78 421.58 L183.68 414.77 L188.76 407.71 L194.04 400.4 L199.53 392.8" fill="none" stroke="#008000" stroke-width="0.6" stroke-opacity="0.25"/>
<path d="M173.22 502.65 L176.23 498.17 L179.32 493.59 L182.49 488.9 L185.74 484.09 L189.07 479.16 L192.5 474.1 L196.03 468.92 L199.66 463.59 L203.39 458.11 L207.24 452.47 L211.21 446.67 L215.31 440.69 L219.55 434.52 L223.93 428.16 L228.47 421.58 L233.18 414.77 L238.07 407.71 L243.15 400.4 L248.44 392.8" fill="none" stroke="#008000" stroke-width="0.6" stroke-opacity="0.25"/>
<path d="M218.1 502.65 L220.99 498.17 L223.96 493.59 L227.01 488.9 L230.13 484.09 L233.34 479.16 L236.64 474.1 L240.03 468.92 L243.52 463.59 L247.12 458.11 L250.83 452.47 L254.65 446.67 L258.6 440.69 L262.69 434.52 L266.91 428.16 L271.29 421.58 L275.83 414.77 L280.54 407.71 L285.44 400.4 L290.55 392.8" fill="none" stroke="#008000" stroke-width="0.6" stroke-opacity="0.25"/>
<path d="M248.11 502.65 L250.93 498.17 L253.81 493.59 L256.77 488.9 L259.81 484.09 L262.94 479.16 L266.14 474.1 L269.45 468.92 L272.84 463.59 L276.34 458.11 L279.95 452.47 L283.68 446.67 L287.52 440.69 L291.5 434.52 L295.62 428.16 L299.88 421.58 L304.31 414.77 L308.9 407.71 L313.69 400.4 L318.66 392.8" fill="none" stroke="#008000" stroke-width="0.6" stroke-opacity="0.25"/>
<path d="M289.36 502.65 L292.06 498.17 L294.83 493.59 L297.68 488.9 L300.59 484.09 L303.59 479.16 L306.68 474.1 L309.85 468.92 L313.11 463.59 L316.48 458.11 L319.95 452.47 L323.53 446.67 L327.24 440.69 L331.06 434.52 L335.03 428.16 L339.14 421.58 L343.4 414.77 L347.83 407.71 L352.44 400.4 L357.24 392.8" fill="none" stroke="#008000" stroke-width="0.6" stroke-opacity="0.25"/>
<path d="M326.47 502.65 L329.06 498.17 L331.72 493.59 L334.45 488.9 L337.26 484.09 L340.14 479.16 L343.11 474.1 L346.16 468.92 L349.31 463.59 L352.55 458.11 L355.89 452.47 L359.35 446.67 L362.92 440.69 L366.61 434.52 L370.43 428.16 L374.4 421.58 L378.51 414.77 L382.79 407.71 L387.24 400.4 L391.88 392.8" fill="none" stroke="#008000" stroke-width="0.6" stroke-opacity="0.25"/>
<path d="M353.58 502.65 L356.09 498.17 L358.68 493.59 L361.33 488.9 L364.05 484.09 L366.85 479.16 L369.73 474.1 L372.69 468.92 L375.75 463.59 L378.9 458.11 L382.14 452.47 L385.5 446.67 L388.97 440.69 L392.56 434.52 L396.28 428.16 L400.13 421.58 L404.14 414.77 L408.3 407.71 L412.64 400.4 L417.16 392.8" fill="none" stroke="#008000" stroke-width="0.6" stroke-opacity="0.25"/>
</g>
<g clip-path="url(#skc)" fill="none" stroke-linejoin="round">
<path d="M258.1 400.6 L261.9 420 L266.9 450 L270 490" fill="none" stroke="#800080" stroke-width="0.7" stroke-dasharray="0.8 1.0" stroke-opacity="0.6"/>
<path d="M119.4 41.1 L128.75 65 L146.25 102.5 L155 120 L165 137.5 L183.75 170 L197.5 193 L228.1 240 L230.6 245 L247.5 272.5 L268.1 310 L272.5 318.75 L280 335 L287.5 360 L295.6 388.75 L297.5 395 L301.25 426.25 L305 455 L306.9 476.5 L320 490" fill="none" stroke="#969696" stroke-width="1.05" stroke-dasharray="4.8 3.0" stroke-opacity="0.9"/>
<path d="M131.25 41.1 L140.5 62 L155 90 L168 120 L188.5 156.9 L197.5 170 L215.5 196.9 L238.5 231 L243.1 240 L258.5 265 L274 296.25 L283 320 L290 338.75 L297.5 357.5 L304.4 388.75 L307.5 407.5 L310.6 440 L312.5 461 L314 479 L327.5 490" fill="none" stroke="#969696" stroke-width="1.05" stroke-dasharray="4.8 3.0" stroke-opacity="0.9"/>
<path d="M208.6 258.75 L223.5 282.5 L231.25 298.75 L238.75 310 L240 313.75 L248.1 337 L247.25 341 L248.1 360 L250 370 L256.9 396.25 L261.9 402.5 L263.1 411.25 L267.5 430 L273.75 445.25 L281.25 450.9 L292.5 462.75 L298.1 471.5 L294.5 474 L293.5 479.6 L294 486 L298.75 490.6" fill="none" stroke="#7fb0f5" stroke-width="0.9"/>
<path d="M241 316 L247 325.6 L253.5 336.9 L252.5 340 L252.6 356.25 L254.5 366.25 L259.5 376.25 L267.5 388.75 L270 399.4 L269.4 402.5 L306.25 437.5 L313.75 447.75 L331.9 468.75 L329.4 471.5 L319.4 472.5 L307.5 475.25 L307.5 479 L326.25 490" fill="none" stroke="#a83232" stroke-width="2.1" stroke-dasharray="2.1 2.1"/>
<path d="M165.6 41.1 L146.25 55.6 L136.25 68.75 L121.9 90 L113.1 98.1 L98.75 120 L80.6 152.75 L152.5 162.5 L158.1 165.9 L152.5 171.9 L154.7 176.6 L149.4 188.75 L132.5 195.6 L178.1 200.6 L162.5 202.75 L153.1 207.5 L160 210.25 L141.9 212.75 L148.75 214 L142.75 216 L173.1 220.6 L171.25 225 L141.25 227.5 L160 228.1 L128.1 230 L162.5 230.9 L163.75 234 L174.4 234.4 L189.4 238.5 L191.9 242.25 L185.6 248.75 L191.25 251.25 L186.9 255 L193.75 256.9 L188.1 258.75 L195 261.9 L188.1 264.4 L206.9 277.5 L208.1 280.6 L201.9 285 L208.1 290.6 L214.4 291.25 L215.6 298.75 L222.5 300 L221.25 308.1 L233.1 315 L232.75 321.9 L237.5 325.6 L243.75 336.9 L240.25 340 L241.25 356.25 L245.6 368.1 L242.8 376.25 L248.9 381.9 L246.5 387.5 L246.25 396.25 L257.5 401 L245 425 L244.4 436.7 L250.6 446.7 L266.9 450.9 L278.75 460.25 L285.6 469.6 L293.75 473.4 L293.1 479.6 L287.6 490.2 L293.5 490.4" fill="none" stroke="#6495ed" stroke-width="3.4"/>
<path d="M295 41.1 L292.5 56.25 L260.5 67 L261.5 90.75 L248.5 98.25 L247.5 117.5 L227.5 141.25 L186.25 161.25 L185.6 172.5 L188.1 176.25 L193.1 188.75 L195.6 190 L194 200 L198.75 210 L199 217.5 L204 225.9 L200.6 228.1 L203.1 234.4 L199.75 238.5 L201.25 245 L209.4 257.5 L210.6 258.75 L221.9 277.5 L226.25 282.5 L233.75 298.1 L233.75 300.25 L241.25 308.1 L241.9 312.5 L245 318.75 L250 325.6 L251.25 336.9 L250 340 L250 356.25 L251.5 366.25 L256.9 376.25 L257.5 381.5 L262.5 387.5 L265 396.25 L264.4 401.9 L300 436.25 L307.5 447.1 L305 450.5 L318.75 470.9 L294.4 474 L293.1 479.6 L308.1 490 L313.75 490.6" fill="none" stroke="#ff0000" stroke-width="3.4"/>
<path d="M136.25 41.1 L141.9 61.25 L153.75 90 L166.25 120 L186.25 156.9 L195.6 170 L213.75 196.9 L237.5 235 L241.25 240 L256.25 265 L271.25 296.25 L278.75 317.5 L286.25 338.75 L292.5 360 L300 388.75 L301.25 395 L308.1 430 L310.25 445 L311.9 461.5 L313.75 479 L327.5 490" fill="none" stroke="#ff0000" stroke-width="1.9" stroke-dasharray="6.2 2.6"/>
</g>
<text x="38.6" y="146.2" font-size="7.1" fill="#4d4d4d">13km</text>
<text x="38.6" y="266.7" font-size="7.1" fill="#4d4d4d">9km</text>
<text x="38.6" y="321.3" font-size="7.1" fill="#4d4d4d">7km</text>
<text x="38.6" y="373" font-size="7.1" fill="#4d4d4d">5km</text>
<text x="38.6" y="422.5" font-size="7.1" fill="#4d4d4d">3km</text>
<text x="38.6" y="468.8" font-size="7.1" fill="#4d4d4d">1km</text>
<text x="38.6" y="490.9" font-size="7.05" fill="#5a5a5a">-SFC (196m) -</text>
<text x="81.9" y="282.2" font-size="7" fill="#4aa24a" font-weight="bold" text-anchor="middle" fill-opacity="0.9">HGZ</text>
<line x1="81.9" y1="286.1" x2="81.9" y2="369.5" stroke="#4aa24a" stroke-width="1.8" stroke-opacity="0.7"/>
<text x="96.2" y="401.75" font-size="7" fill="#cd5c5c" font-weight="bold" text-anchor="middle" fill-opacity="0.85">8.4</text>
<line x1="97.75" y1="403.1" x2="97.75" y2="452" stroke="#cd5c5c" stroke-width="1.6" stroke-opacity="0.6"/>
<text x="113.5" y="449" font-size="7" fill="#add8e6" font-weight="bold" text-anchor="middle" fill-opacity="0.7">EIL</text>
<line x1="113.4" y1="449.3" x2="113.4" y2="491.5" stroke="#add8e6" stroke-width="1.5" stroke-opacity="0.6"/>
<text x="119.75" y="177.5" font-size="7.65" fill="#3c9a3c" fill-opacity="0.75">46% →</text>
<text x="155.5" y="266.25" font-size="7.65" fill="#3c9a3c" fill-opacity="0.75">65% →</text>
<text x="204.4" y="347.5" font-size="7.65" fill="#3c9a3c" fill-opacity="0.75">86% →</text>
<text x="210.5" y="422.5" font-size="7.65" fill="#3c9a3c" fill-opacity="0.75">61% →</text>
<text x="248.75" y="468.75" font-size="7.65" fill="#3c9a3c" fill-opacity="0.75">68% →</text>
<text x="200" y="154.4" font-size="7.65" fill="#ff3030" fill-opacity="0.75">←2372J/kg</text>
<text x="317.25" y="347.5" font-size="7.65" fill="#ff3030" fill-opacity="0.75">←803J/kg</text>
<text x="341" y="422.5" font-size="7.65" fill="#ff3030" fill-opacity="0.75">←60J/kg</text>
<text x="313.9" y="499.7" font-size="6.8" fill="#ff2020" fill-opacity="0.7">75°F</text>
<text x="274.5" y="499.7" font-size="6.8" fill="#6495ed" fill-opacity="0.8">68°F</text>
<text x="449" y="59.75" font-size="8.6" fill="#909090" font-weight="bold">↑MUMPL: 106hPa</text>
<text x="448" y="154.5" font-size="8.6" fill="#909090" font-weight="bold">←MUEL</text>
<text x="448" y="444.25" font-size="8.6" fill="#909090" font-weight="bold">←MULFC</text>
<text x="448" y="480.5" font-size="8.6" fill="#909090" font-weight="bold">←SBLCL</text>
<text x="426.75" y="473.25" font-size="5.6" fill="#8a8a8a" font-weight="bold">←PBL</text>
<line x1="437.25" y1="474.5" x2="437.25" y2="490.5" stroke="#858585" stroke-width="0.85" stroke-dasharray="0.9 1.2"/>
<text x="419" y="405" font-size="6.6" fill="#6495ed" font-weight="bold" fill-opacity="0.6">←FRZ</text>
<text x="419" y="409.6" font-size="6.6" fill="#6495ed" font-weight="bold" fill-opacity="0.6">←WB0</text>
<line x1="469" y1="151" x2="469" y2="491" stroke="#bdbdbd" stroke-width="0.9" stroke-dasharray="0.9 1.3"/>
<rect x="14.9" y="43.8" width="75.1" height="80.2" rx="1.6" ry="1.6" fill="#ffffff" fill-opacity="0.8" stroke="#d4d4d4" stroke-opacity="0.8" stroke-width="0.7"/>
<line x1="17.8" y1="48.4" x2="30" y2="48.4" stroke="#7fb0f5" stroke-width="0.9"/>
<text x="34.5" y="50.5" font-size="5.8" fill="#262626" fill-opacity="0.92">WETBULB TEMP</text>
<line x1="17.8" y1="57.18" x2="30" y2="57.18" stroke="#a83232" stroke-width="1.9" stroke-dasharray="1.9 1.9"/>
<text x="34.5" y="59.28" font-size="5.8" fill="#262626" fill-opacity="0.92">VIRTUAL TEMP</text>
<line x1="17.8" y1="65.96" x2="30" y2="65.96" stroke="#6495ed" stroke-width="3.2"/>
<text x="34.5" y="68.06" font-size="5.8" fill="#262626" fill-opacity="0.92">DEWPOINT</text>
<line x1="17.8" y1="74.74" x2="30" y2="74.74" stroke="#ff0000" stroke-width="3.2"/>
<text x="34.5" y="76.84" font-size="5.8" fill="#262626" fill-opacity="0.92">TEMPERATURE</text>
<line x1="17.8" y1="83.52" x2="30" y2="83.52" stroke="#ff0000" stroke-width="1.6" stroke-dasharray="6.2 2.6"/>
<text x="34.5" y="85.62" font-size="5.8" fill="#262626" fill-opacity="0.92">MUECAPE PARCEL</text>
<line x1="17.8" y1="92.3" x2="30" y2="92.3" stroke="#9a9a9a" stroke-width="1.05" stroke-dasharray="4.8 3.0"/>
<text x="34.5" y="94.4" font-size="5.8" fill="#262626" fill-opacity="0.92">SBCAPE PARCEL</text>
<line x1="17.8" y1="101.08" x2="30" y2="101.08" stroke="#9a9a9a" stroke-width="1.05" stroke-dasharray="4.8 3.0"/>
<text x="34.5" y="103.18" font-size="5.8" fill="#262626" fill-opacity="0.92">MLCAPE PARCEL</text>
<line x1="17.8" y1="109.86" x2="30" y2="109.86" stroke="#9a9a9a" stroke-width="1.05" stroke-dasharray="4.8 3.0"/>
<text x="34.5" y="111.96" font-size="5.8" fill="#262626" fill-opacity="0.92">MUCAPE PARCEL</text>
<line x1="17.8" y1="118.64" x2="30" y2="118.64" stroke="#c080c0" stroke-width="0.7" stroke-dasharray="0.8 1.0"/>
<text x="34.5" y="120.74" font-size="5.8" fill="#262626" fill-opacity="0.92">DWNDRFT PARCEL</text>
<rect x="543.5" y="41.1" width="37" height="461.55" fill="#fff" stroke="none" stroke-width="1"/>
<line x1="543.5" y1="493.07" x2="580.5" y2="493.07" stroke="#c8c8c8" stroke-width="0.9"/>
<line x1="543.5" y1="472.39" x2="580.5" y2="472.39" stroke="#c8c8c8" stroke-width="0.9"/>
<line x1="543.5" y1="449.27" x2="580.5" y2="449.27" stroke="#c8c8c8" stroke-width="0.9"/>
<line x1="543.5" y1="423.06" x2="580.5" y2="423.06" stroke="#c8c8c8" stroke-width="0.9"/>
<line x1="543.5" y1="392.8" x2="580.5" y2="392.8" stroke="#c8c8c8" stroke-width="0.9"/>
<line x1="543.5" y1="357.01" x2="580.5" y2="357.01" stroke="#c8c8c8" stroke-width="0.9"/>
<line x1="543.5" y1="313.2" x2="580.5" y2="313.2" stroke="#c8c8c8" stroke-width="0.9"/>
<line x1="543.5" y1="256.73" x2="580.5" y2="256.73" stroke="#c8c8c8" stroke-width="0.9"/>
<line x1="543.5" y1="177.14" x2="580.5" y2="177.14" stroke="#c8c8c8" stroke-width="0.9"/>
<rect x="561.1" y="105.9" width="7.5" height="106.6" fill="#ffaaaa" stroke="#e08a8a" stroke-width="0.4"/>
<rect x="561.1" y="212.5" width="1" height="68.25" fill="#ffaaaa" stroke="#e08a8a" stroke-width="0.4"/>
<rect x="554.25" y="280.75" width="6.85" height="50.5" fill="#c3d4f6" stroke="#9ab4e8" stroke-width="0.4"/>
<rect x="560.2" y="331.25" width="0.9" height="40.75" fill="#c3d4f6" stroke="#9ab4e8" stroke-width="0.4"/>
<rect x="560.9" y="372" width="0.2" height="33" fill="#c3d4f6" stroke="#9ab4e8" stroke-width="0.4"/>
<rect x="561.1" y="405" width="4.4" height="28.75" fill="#ffaaaa" stroke="#e08a8a" stroke-width="0.4"/>
<rect x="561.1" y="433.75" width="6.9" height="25" fill="#ffaaaa" stroke="#e08a8a" stroke-width="0.4"/>
<rect x="561.1" y="458.75" width="8.6" height="21.75" fill="#ffaaaa" stroke="#e08a8a" stroke-width="0.4"/>
<line x1="561.1" y1="41.1" x2="561.1" y2="502.65" stroke="#3a3a3a" stroke-width="0.9" stroke-dasharray="1.6 1.1"/>
<text x="561.9" y="176.5" font-size="5.4" fill="#000" font-weight="bold">2.7</text>
<text x="561.9" y="256.3" font-size="5.4" fill="#000" font-weight="bold">0.5</text>
<text x="560.5" y="313.2" font-size="5.4" fill="#000" font-weight="bold" text-anchor="end">-2.6</text>
<text x="560.5" y="356.6" font-size="5.4" fill="#000" font-weight="bold" text-anchor="end">-0.4</text>
<text x="560.5" y="393.2" font-size="5.4" fill="#000" font-weight="bold" text-anchor="end">-0.0</text>
<text x="561.9" y="423.2" font-size="5.4" fill="#000" font-weight="bold">1.5</text>
<text x="561.9" y="449.2" font-size="5.4" fill="#000" font-weight="bold">2.5</text>
<text x="561.9" y="472.2" font-size="5.4" fill="#000" font-weight="bold">3.0</text>
<rect x="543.5" y="41.1" width="37" height="461.55" fill="none" stroke="#7a7a7a" stroke-width="1.1"/>
<defs><clipPath id="hdc"><rect x="580.5" y="41.1" width="427" height="461.55"/></clipPath></defs>
<rect x="580.5" y="41.1" width="427" height="461.55" fill="#fff" stroke="none" stroke-width="1"/>
<g clip-path="url(#hdc)">
<circle cx="715.5" cy="363.25" r="37.6" fill="none" stroke="#cbcbcb" stroke-width="0.65" stroke-dasharray="2.6 1.6"/>
<circle cx="715.5" cy="363.25" r="75.2" fill="none" stroke="#9a9a9a" stroke-width="0.7"/>
<circle cx="715.5" cy="363.25" r="112.8" fill="none" stroke="#cbcbcb" stroke-width="0.65" stroke-dasharray="2.6 1.6"/>
<circle cx="715.5" cy="363.25" r="150.4" fill="none" stroke="#9a9a9a" stroke-width="0.7"/>
<circle cx="715.5" cy="363.25" r="188" fill="none" stroke="#cbcbcb" stroke-width="0.65" stroke-dasharray="2.6 1.6"/>
<circle cx="715.5" cy="363.25" r="225.6" fill="none" stroke="#9a9a9a" stroke-width="0.7"/>
<circle cx="715.5" cy="363.25" r="263.2" fill="none" stroke="#cbcbcb" stroke-width="0.65" stroke-dasharray="2.6 1.6"/>
<circle cx="715.5" cy="363.25" r="300.8" fill="none" stroke="#9a9a9a" stroke-width="0.7"/>
<circle cx="715.5" cy="363.25" r="338.4" fill="none" stroke="#cbcbcb" stroke-width="0.65" stroke-dasharray="2.6 1.6"/>
<circle cx="715.5" cy="363.25" r="376" fill="none" stroke="#9a9a9a" stroke-width="0.7"/>
<circle cx="715.5" cy="363.25" r="413.6" fill="none" stroke="#cbcbcb" stroke-width="0.65" stroke-dasharray="2.6 1.6"/>
<circle cx="715.5" cy="363.25" r="451.2" fill="none" stroke="#9a9a9a" stroke-width="0.7"/>
<line x1="580.5" y1="363.25" x2="1007.5" y2="363.25" stroke="#a4a4a4" stroke-width="0.6" stroke-dasharray="2.2 1.2"/>
<line x1="715.5" y1="41.1" x2="715.5" y2="502.65" stroke="#a4a4a4" stroke-width="0.6" stroke-dasharray="2.2 1.2"/>
<text x="753.7" y="362.35" font-size="7" fill="#a9a9a9" fill-opacity="0.62">10</text>
<text x="678.5" y="362.35" font-size="7" fill="#a9a9a9" fill-opacity="0.62">10</text>
<text x="716.1" y="324.75" font-size="7" fill="#a9a9a9" fill-opacity="0.62">10</text>
<text x="716.1" y="399.95" font-size="7" fill="#a9a9a9" fill-opacity="0.62">10</text>
<text x="828.9" y="362.35" font-size="7" fill="#a9a9a9" fill-opacity="0.62">30</text>
<text x="603.3" y="362.35" font-size="7" fill="#a9a9a9" fill-opacity="0.62">30</text>
<text x="716.1" y="249.55" font-size="7" fill="#a9a9a9" fill-opacity="0.62">30</text>
<text x="716.1" y="475.15" font-size="7" fill="#a9a9a9" fill-opacity="0.62">30</text>
<text x="904.1" y="362.35" font-size="7" fill="#a9a9a9" fill-opacity="0.62">50</text>
<text x="528.1" y="362.35" font-size="7" fill="#a9a9a9" fill-opacity="0.62">50</text>
<text x="716.1" y="174.35" font-size="7" fill="#a9a9a9" fill-opacity="0.62">50</text>
<text x="716.1" y="550.35" font-size="7" fill="#a9a9a9" fill-opacity="0.62">50</text>
<text x="979.3" y="362.35" font-size="7" fill="#a9a9a9" fill-opacity="0.62">70</text>
<text x="452.9" y="362.35" font-size="7" fill="#a9a9a9" fill-opacity="0.62">70</text>
<text x="716.1" y="99.15" font-size="7" fill="#a9a9a9" fill-opacity="0.62">70</text>
<text x="716.1" y="625.55" font-size="7" fill="#a9a9a9" fill-opacity="0.62">70</text>
<path d="M715 326.6 L725 303 L734.4 280 L741 266 L748.75 253.1 L760 240 L762.5 232.5 L770 224.4 L780 218.75 L778.75 227.5 L778.1 236.25 L779.4 247.5 L778.1 258.75 L777 264 L828.75 308.1 Z" fill="#add8e6" stroke="#add8e6" stroke-width="0.8" fill-opacity="0.32" stroke-opacity="0.6"/>
<line x1="715.5" y1="363.25" x2="826.5" y2="309.2" stroke="#b4b4b4" stroke-width="1.5"/>
<path d="M828.2 308.4 L822.5 308.6 L824.6 312.8 Z" fill="#b4b4b4"/>
<path d="M872.9 175.6 L885 162 L884.25 160.75 L893 154.5 L943 140 L968 133.25 L988 129.5 L998 125.75 L996 120 L994.5 114.5 L999.25 107 L1000 94.5 L998 79.5" fill="none" stroke="#ffeb99" stroke-width="4.3" stroke-linejoin="round" stroke-linecap="butt"/>
<path d="M841.25 259.4 L842.5 240 L842.5 231.25 L840 210 L837.25 193.1 L839 190 L845 189.75 L858.75 189.75 L860 192.75 L873.75 189 L879.4 186 L890 186 L894.4 184 L890 180.6 L882.5 179.4 L872.9 175.6" fill="none" stroke="#ffd700" stroke-width="4.3" stroke-linejoin="round" stroke-linecap="butt"/>
<path d="M790 310.9 L815.4 293.75 L835.6 279 L845.6 278.5 L865 276.9 L863.1 256 L841.25 259.4" fill="none" stroke="#ff8c00" stroke-width="4.3" stroke-linejoin="round" stroke-linecap="butt"/>
<path d="M780 218.75 L778.75 227.5 L778.1 236.25 L779.4 247.5 L778.1 258.75 L775 275 L775.6 282.1 L778.75 287.5 L781.25 298.75 L775 305 L790 310.9" fill="none" stroke="#ff0000" stroke-width="4.3" stroke-linejoin="round" stroke-linecap="butt"/>
<path d="M715 326.6 L725 303 L734.4 280 L741 266 L748.75 253.1 L760 240 L762.5 232.5 L770 224.4 L780 218.75" fill="none" stroke="#800080" stroke-width="4.3" stroke-linejoin="round" stroke-linecap="butt"/>
<text x="769.4" y="298.5" font-size="5.6" fill="#b22222" font-weight="bold" fill-opacity="0.85">DTM</text>
<circle cx="775.8" cy="304.6" r="1.4" fill="#a03030" stroke="none" stroke-width="1"/>
<circle cx="748.75" cy="253.1" r="4.5" fill="#fff" stroke="#000" stroke-width="0.75"/>
<text x="748.75" y="255.65" font-size="7" fill="#000" font-weight="bold" text-anchor="middle">.5</text>
<circle cx="780" cy="218.75" r="4.5" fill="#fff" stroke="#000" stroke-width="0.75"/>
<text x="780" y="221.3" font-size="7" fill="#000" font-weight="bold" text-anchor="middle">1</text>
<circle cx="775.6" cy="282.1" r="4.5" fill="#fff" stroke="#000" stroke-width="0.75"/>
<text x="775.6" y="284.65" font-size="7" fill="#000" font-weight="bold" text-anchor="middle">2</text>
<circle cx="790" cy="310.9" r="4.5" fill="#fff" stroke="#000" stroke-width="0.75"/>
<text x="790" y="313.45" font-size="7" fill="#000" font-weight="bold" text-anchor="middle">3</text>
<circle cx="815.4" cy="293.75" r="4.5" fill="#fff" stroke="#000" stroke-width="0.75"/>
<text x="815.4" y="296.3" font-size="7" fill="#000" font-weight="bold" text-anchor="middle">4</text>
<circle cx="845.6" cy="278.5" r="4.5" fill="#fff" stroke="#000" stroke-width="0.75"/>
<text x="845.6" y="281.05" font-size="7" fill="#000" font-weight="bold" text-anchor="middle">5</text>
<circle cx="840.6" cy="254" r="4.5" fill="#fff" stroke="#000" stroke-width="0.75"/>
<text x="840.6" y="256.55" font-size="7" fill="#000" font-weight="bold" text-anchor="middle">6</text>
<circle cx="845" cy="189.75" r="4.5" fill="#fff" stroke="#000" stroke-width="0.75"/>
<text x="845" y="192.3" font-size="7" fill="#000" font-weight="bold" text-anchor="middle">7</text>
<circle cx="879.4" cy="186" r="4.5" fill="#fff" stroke="#000" stroke-width="0.75"/>
<text x="879.4" y="188.55" font-size="7" fill="#000" font-weight="bold" text-anchor="middle">8</text>
<circle cx="872.9" cy="175.6" r="4.5" fill="#fff" stroke="#000" stroke-width="0.75"/>
<text x="872.9" y="178.15" font-size="7" fill="#000" font-weight="bold" text-anchor="middle">9</text>
<circle cx="994.25" cy="121.25" r="4.5" fill="#fff" stroke="#000" stroke-width="0.75"/>
<text x="994.25" y="123.8" font-size="7" fill="#000" font-weight="bold" text-anchor="middle">11</text>
<text x="763.1" y="223.75" font-size="8.1" fill="#000" font-weight="bold">LM</text>
<text x="831.9" y="310" font-size="8.1" fill="#000" font-weight="bold">RM</text>
<text x="822.5" y="262.5" font-size="8.1" fill="#000" font-weight="bold">MW</text>
<text x="885.5" y="263.25" font-size="6.5" fill="#ffb347" font-weight="bold" fill-opacity="0.7">DN</text>
<text x="776.5" y="370" font-size="6.5" fill="#ffb347" font-weight="bold" fill-opacity="0.7">UP</text>
</g>
<text x="589.75" y="52" font-size="8.65" fill="#5e5e5e" font-weight="bold">SM: RIGHT MOVING | ENE @ 33 kts</text>
<text x="589.5" y="65" font-size="8.6" fill="#747474">RM: ENE @ 33 kts</text>
<text x="589.5" y="81.25" font-size="8.6" fill="#747474">LM: NNE @ 39 kts</text>
<text x="589.5" y="97.5" font-size="8.6" fill="#747474">MW: NE @ 38 kts</text>
<text x="586.75" y="114" font-size="8.6" fill="#747474">DTM: NE @ 22 kts</text>
<text x="589.5" y="130.25" font-size="8.6" fill="#747474">US: E @ 17 kts</text>
<text x="589.5" y="146.5" font-size="8.6" fill="#747474">DS: ENE @ 53 kts</text>
<rect x="915.5" y="426.5" width="92" height="76" fill="#fff" stroke="#7a7a7a" stroke-width="1"/>
<text x="923" y="438.25" font-size="7.35" font-weight="bold" fill="#000">0-3<tspan font-size="4.2" letter-spacing="0.5">km</tspan> SRH,</text>
<text x="976.75" y="438.25" font-size="7.35" fill="#000" font-weight="bold">BWD</text>
<text x="923.5" y="450.75" font-size="7.35" fill="#4f6fe6" font-weight="bold">142 m²/s²</text>
<text x="975.5" y="450.75" font-size="7.35" fill="#4f6fe6" font-weight="bold">20 kt</text>
<text x="923" y="463.25" font-size="7.35" font-weight="bold" fill="#000">0-6<tspan font-size="4.2" letter-spacing="0.5">km</tspan> SRH,</text>
<text x="976.75" y="463.25" font-size="7.35" fill="#000" font-weight="bold">BWD</text>
<text x="923.5" y="475" font-size="7.35" fill="#4f6fe6" font-weight="bold">139 m²/s²</text>
<text x="975.5" y="475" font-size="7.35" fill="#4f6fe6" font-weight="bold">38 kt</text>
<text x="928.2" y="488.2" font-size="7.4" fill="#000" font-weight="bold" text-anchor="middle">SCP</text>
<text x="950.8" y="488.2" font-size="7.4" fill="#000" font-weight="bold" text-anchor="middle">STP</text>
<text x="974.1" y="487.5" font-size="7.4" fill="#000" font-weight="bold" text-anchor="middle">EHI</text>
<text x="996.9" y="487.5" font-size="7.4" fill="#000" font-weight="bold" text-anchor="middle">EHI</text>
<text x="974.3" y="491.4" font-size="3.7" fill="#000" font-weight="bold" text-anchor="middle" letter-spacing="0.45">0−1km</text>
<text x="997.1" y="491.4" font-size="3.7" fill="#000" font-weight="bold" text-anchor="middle" letter-spacing="0.45">0−3km</text>
<text x="928" y="498.3" font-size="7.6" fill="#c03040" font-weight="bold" text-anchor="middle">8</text>
<text x="951" y="498.3" font-size="7.6" fill="#c03040" font-weight="bold" text-anchor="middle">2</text>
<text x="973.75" y="498.3" font-size="7.6" fill="#ff4500" font-weight="bold" text-anchor="middle">3</text>
<text x="996.75" y="498.3" font-size="7.6" fill="#ff4500" font-weight="bold" text-anchor="middle">2</text>
<rect x="580.5" y="41.1" width="427" height="461.55" fill="none" stroke="#7a7a7a" stroke-width="1.1"/>
<defs><clipPath id="mpc"><rect x="580.5" y="394.4" width="108.5" height="108.25"/></clipPath><filter id="bl1" x="-30%" y="-30%" width="160%" height="160%"><feGaussianBlur stdDeviation="0.7"/></filter><filter id="bl2" x="-30%" y="-30%" width="160%" height="160%"><feGaussianBlur stdDeviation="1.2"/></filter><filter id="pat" x="-20%" y="-20%" width="140%" height="140%"><feGaussianBlur in="SourceGraphic" stdDeviation="0.9" result="b"/><feTurbulence type="fractalNoise" baseFrequency="0.22" numOctaves="3" seed="11" result="n"/><feColorMatrix in="n" type="matrix" values="0 0 0 0 0  0 0 0 0 0  0 0 0 0 0  0 0 0 4.2 -1.45" result="m"/><feComposite in="b" in2="m" operator="in"/></filter><filter id="pat2" x="-20%" y="-20%" width="140%" height="140%"><feGaussianBlur in="SourceGraphic" stdDeviation="0.7" result="b"/><feTurbulence type="fractalNoise" baseFrequency="0.3" numOctaves="3" seed="5" result="n"/><feColorMatrix in="n" type="matrix" values="0 0 0 0 0  0 0 0 0 0  0 0 0 0 0  0 0 0 4.5 -1.7" result="m"/><feComposite in="b" in2="m" operator="in"/></filter><filter id="pat3" x="-20%" y="-20%" width="140%" height="140%"><feGaussianBlur in="SourceGraphic" stdDeviation="1.0" result="b"/><feTurbulence type="fractalNoise" baseFrequency="0.2" numOctaves="2" seed="23" result="n"/><feColorMatrix in="n" type="matrix" values="0 0 0 0 0  0 0 0 0 0  0 0 0 0 0  0 0 0 5 -1.3" result="m"/><feComposite in="b" in2="m" operator="in"/></filter><filter id="tex" x="0" y="0" width="100%" height="100%"><feTurbulence type="fractalNoise" baseFrequency="0.9" numOctaves="2" seed="3" result="n"/><feColorMatrix in="n" type="matrix" values="0 0 0 0 0.80  0 0 0 0 0.80  0 0 0 0 0.77  1.6 0 0 0 -0.3"/></filter></defs>
<g clip-path="url(#mpc)">
<rect x="580.5" y="394.4" width="108.5" height="108.25" fill="#b6b6b0" stroke="none" stroke-width="1"/>
<rect x="580.5" y="394.4" width="108.5" height="108.25" fill="#c6c6c0" stroke="none" stroke-width="1" filter="url(#tex)" opacity="0.6"/>
<path d="M580.5 398.62L602 398.62M583.88 394.25L583.88 415.5M580.5 406.75L602 406.75M580.5 415.5L602 415.5M602 394.25L602 421.75M612.62 394.25L612.62 400.5M610.12 400.5L625.75 400.5M610.12 400.5L610.12 409.25M610.12 409.25L625.75 409.25M625.5 394.25L625.5 425.5M615.75 409.25L615.75 425.5M615.75 425.5L628.25 425.5M597.62 422.38L615.12 422.38M597.62 422.38L597.62 430.5M597.62 430.5L614.5 431.75M614.5 426.75L614.5 436.75M614.5 426.75L628.25 426.75M628.25 425.5L628.25 440.5M614.5 436.12L628.25 436.12M625.75 400.5L638.88 400.5M638.88 395.5L638.88 419.25M625.75 408L638.88 408M638.88 408L647 408M647 408L647 420.5M638.88 419.25L647 420.5M647 420.5L655.75 420.5M651.38 394.25L651.38 408M647 408L665.75 408M655.12 411.12L655.12 420.5M655.12 411.12L665.75 411.12M665.75 411.12L664.5 425.5M643.88 420.5L643.88 428M643.88 428L654.5 428M654.5 425.5L654.5 431.75M654.5 425.5L664.5 425.5M653.88 431.75L663.25 431.75M663.25 425.5L663.25 431.75M637 428L643.88 428M633.25 430.5L644.5 431.12M644.5 431.12L644.5 438M644.5 438L657 438M657 431.75L657 439.25M665.12 394.25L665.12 398M661.38 398L672 398M661.38 398L661.38 404.25M672 394.25L672 404.25M670.75 404.25L680.75 404.25M667 414.25L679.5 411.75M679.5 411.75L688.25 417.38M678.88 417.38L688.25 417.38M678.88 417.38L678.88 425.5M672 428L678.88 425.5M664.5 425.5L672 428M684.5 394.25L684.5 398.62M674.5 398.62L688.25 398.62M580.5 416.75L585.75 422.38M585.75 422.38L590.75 425.5M590.75 425.5L597.62 428M588.25 428L588.25 435.5M602 430.5L602 438M628.25 440.5L643.25 439.25M643.25 439.25L643.25 443M667.62 429.25L667.62 444.88M672 428L672 438M580.5 446.75L607 446.75M580.5 457.38L659.5 457.38M580.5 468L659.5 468M580.5 479.25L653.25 479.25M580.5 489.25L607 489.25M594.5 440.5L594.5 468M607.62 441.75L607.62 468M618.88 446.75L618.88 468M632 457.38L632 468M643.88 446.75L643.88 468M658.25 449.25L658.25 469.25M590.75 468L590.75 479.25M603.25 468L603.25 479.25M615.75 468L615.75 479.25M627.62 468L627.62 479.25M639.5 478L639.5 486.75M653.25 468L653.25 479.25M588.88 479.25L588.88 501.75M605.75 479.25L604.5 485.5M604.5 485.5L594.5 489.25M604.5 485.5L607 489.25M607 489.25L607 501.75M615.75 479.25L619.5 485.5M619.5 485.5L627 483M627 479.25L627 489.25M627 486.75L639.5 485.5M639.5 486.75L645.75 489.25M645.75 489.25L657 484.25M653.25 479.25L657 484.25M619.5 485.5L622 489.25M659.5 457.38L669.5 457.38M669.5 446.75L669.5 457.38M659.5 468L662 471.12M675.75 476.75L675.75 484.25M675.75 484.25L688.88 483M664.5 483L675.75 484.25" fill="none" stroke="#4c4c4a" stroke-width="0.65" stroke-opacity="0.85"/>
<ellipse cx="598.88" cy="405.5" rx="10.62" ry="3.5" fill="#4a7fd0" fill-opacity="0.7" transform="rotate(-14 598.88 405.5)" filter="url(#bl1)"/>
<ellipse cx="598.88" cy="405.5" rx="9.38" ry="2.5" fill="#22b43c" fill-opacity="0.9" transform="rotate(-14 598.88 405.5)" filter="url(#bl1)"/>
<ellipse cx="597" cy="406.38" rx="5.25" ry="1.38" fill="#f2ea20" fill-opacity="0.9" transform="rotate(-12 597 406.38)" filter="url(#bl1)"/>
<ellipse cx="607" cy="402.75" rx="3.12" ry="1.75" fill="#22b43c" fill-opacity="0.9" transform="rotate(-30 607 402.75)" filter="url(#bl1)"/>
<ellipse cx="605.12" cy="414.62" rx="6.88" ry="2.5" fill="#4a7fd0" fill-opacity="0.7" transform="rotate(12 605.12 414.62)" filter="url(#bl1)"/>
<ellipse cx="605.12" cy="414.88" rx="5.62" ry="1.75" fill="#22b43c" fill-opacity="0.9" transform="rotate(12 605.12 414.88)" filter="url(#bl1)"/>
<ellipse cx="606.38" cy="415.5" rx="3.25" ry="1" fill="#f2ea20" fill-opacity="0.9" transform="rotate(12 606.38 415.5)" filter="url(#bl1)"/>
<ellipse cx="626.38" cy="399.25" rx="2" ry="2.75" fill="#4a7fd0" fill-opacity="0.8" transform="rotate(20 626.38 399.25)" filter="url(#bl1)"/>
<ellipse cx="637.25" cy="397.38" rx="2.5" ry="3.12" fill="#4a7fd0" fill-opacity="0.8" transform="rotate(0 637.25 397.38)" filter="url(#bl1)"/>
<ellipse cx="622.62" cy="420.75" rx="2.75" ry="1.75" fill="#4a7fd0" fill-opacity="0.8" transform="rotate(20 622.62 420.75)" filter="url(#bl1)"/>
<ellipse cx="638.25" cy="422.62" rx="3.12" ry="2" fill="#4a7fd0" fill-opacity="0.8" transform="rotate(0 638.25 422.62)" filter="url(#bl1)"/>
<ellipse cx="649.5" cy="425.25" rx="1.75" ry="1.25" fill="#4a7fd0" fill-opacity="0.8" transform="rotate(0 649.5 425.25)" filter="url(#bl1)"/>
<ellipse cx="666.38" cy="434.5" rx="2" ry="2.25" fill="#4a7fd0" fill-opacity="0.8" transform="rotate(0 666.38 434.5)" filter="url(#bl1)"/>
<ellipse cx="683.25" cy="424.25" rx="1.75" ry="1.25" fill="#4a7fd0" fill-opacity="0.7" transform="rotate(0 683.25 424.25)" filter="url(#bl1)"/>
<ellipse cx="680.75" cy="408" rx="2" ry="2.75" fill="#4a7fd0" fill-opacity="0.6" transform="rotate(30 680.75 408)" filter="url(#bl1)"/>
<ellipse cx="659.5" cy="404.88" rx="7.5" ry="3.5" fill="#4a7fd0" fill-opacity="0.8" transform="rotate(-15 659.5 404.88)" filter="url(#bl1)"/>
<ellipse cx="660.75" cy="404.25" rx="4.38" ry="1.5" fill="#22b43c" fill-opacity="0.9" transform="rotate(-15 660.75 404.25)" filter="url(#bl1)"/>
<ellipse cx="664.5" cy="400.5" rx="2.75" ry="2.75" fill="#4a7fd0" fill-opacity="0.7" transform="rotate(0 664.5 400.5)" filter="url(#bl1)"/>
<ellipse cx="610.75" cy="397" rx="1.75" ry="2.25" fill="#4a7fd0" fill-opacity="0.7" transform="rotate(-20 610.75 397)" filter="url(#bl1)"/>
<ellipse cx="611" cy="397" rx="1" ry="1.5" fill="#22b43c" fill-opacity="0.9" transform="rotate(-20 611 397)" filter="url(#bl1)"/>
<ellipse cx="687.62" cy="401.75" rx="1.25" ry="3.12" fill="#4a7fd0" fill-opacity="0.7" transform="rotate(0 687.62 401.75)" filter="url(#bl1)"/>
<ellipse cx="627" cy="443.25" rx="5" ry="2.75" fill="#4a7fd0" fill-opacity="0.6" transform="rotate(10 627 443.25)" filter="url(#bl1)"/>
<ellipse cx="627" cy="443" rx="3.5" ry="1.5" fill="#22b43c" fill-opacity="0.9" transform="rotate(20 627 443)" filter="url(#bl1)"/>
<ellipse cx="628.5" cy="450.5" rx="2" ry="3.25" fill="#22b43c" fill-opacity="0.9" transform="rotate(0 628.5 450.5)" filter="url(#bl1)"/>
<ellipse cx="628.25" cy="450.25" rx="0.88" ry="1.5" fill="#f2ea20" fill-opacity="0.8" transform="rotate(0 628.25 450.25)" filter="url(#bl1)"/>
<ellipse cx="633.25" cy="451.12" rx="3.75" ry="2.25" fill="#4a7fd0" fill-opacity="0.7" transform="rotate(0 633.25 451.12)" filter="url(#bl1)"/>
<ellipse cx="648.25" cy="455.75" rx="4" ry="3.5" fill="#4a7fd0" fill-opacity="0.85" transform="rotate(0 648.25 455.75)" filter="url(#bl1)"/>
<ellipse cx="645.75" cy="449.25" rx="1.75" ry="1.75" fill="#4a7fd0" fill-opacity="0.6" transform="rotate(0 645.75 449.25)" filter="url(#bl1)"/>
<ellipse cx="630.12" cy="459.88" rx="1.5" ry="2.5" fill="#4a7fd0" fill-opacity="0.7" transform="rotate(0 630.12 459.88)" filter="url(#bl1)"/>
<ellipse cx="642.62" cy="474.88" rx="8.12" ry="4.75" fill="#4a7fd0" fill-opacity="0.75" transform="rotate(0 642.62 474.88)" filter="url(#bl1)"/>
<ellipse cx="643.5" cy="475.25" rx="4.25" ry="3" fill="#22b43c" fill-opacity="0.9" transform="rotate(0 643.5 475.25)" filter="url(#bl1)"/>
<ellipse cx="630.75" cy="474.88" rx="2.5" ry="1.75" fill="#4a7fd0" fill-opacity="0.7" transform="rotate(0 630.75 474.88)" filter="url(#bl1)"/>
<ellipse cx="590.75" cy="481.75" rx="2" ry="3.75" fill="#4a7fd0" fill-opacity="0.5" transform="rotate(0 590.75 481.75)" filter="url(#bl1)"/>
<ellipse cx="591.38" cy="479.88" rx="1.25" ry="1.25" fill="#22b43c" fill-opacity="0.7" transform="rotate(0 591.38 479.88)" filter="url(#bl1)"/>
<ellipse cx="597" cy="463.38" rx="1.25" ry="1" fill="#22b43c" fill-opacity="0.6" transform="rotate(0 597 463.38)" filter="url(#bl1)"/>
<path d="M672 430.5 L689.5 426.75 L689.5 508 L662 508 L658.25 488 L659.5 469.25 L664.5 459.25 L670.75 453 L669.5 440.5 Z" fill="#4a7fd0" fill-opacity="0.85" filter="url(#pat)"/>
<ellipse cx="678.25" cy="473" rx="9.38" ry="28.75" fill="#22b43c" fill-opacity="0.85" transform="rotate(8 678.25 473)" filter="url(#pat3)"/>
<ellipse cx="678.25" cy="450.5" rx="10" ry="7.5" fill="#22b43c" fill-opacity="0.9" transform="rotate(0 678.25 450.5)" filter="url(#pat2)"/>
<ellipse cx="675.75" cy="436.75" rx="3.25" ry="5" fill="#22b43c" fill-opacity="0.9" transform="rotate(20 675.75 436.75)" filter="url(#bl1)"/>
<ellipse cx="676" cy="436.5" rx="1.5" ry="2.75" fill="#f2ea20" fill-opacity="0.9" transform="rotate(20 676 436.5)" filter="url(#bl1)"/>
<ellipse cx="670.75" cy="465.5" rx="7.5" ry="11.25" fill="#22b43c" fill-opacity="0.9" transform="rotate(30 670.75 465.5)" filter="url(#pat2)"/>
<ellipse cx="662" cy="483" rx="4.38" ry="6.88" fill="#22b43c" fill-opacity="0.9" transform="rotate(20 662 483)" filter="url(#pat2)"/>
<ellipse cx="684.5" cy="481.75" rx="5.62" ry="5" fill="#22b43c" fill-opacity="0.9" transform="rotate(0 684.5 481.75)" filter="url(#pat2)"/>
<ellipse cx="683.25" cy="498" rx="7.5" ry="8.75" fill="#22b43c" fill-opacity="0.95" transform="rotate(0 683.25 498)" filter="url(#pat2)"/>
<ellipse cx="682" cy="462.38" rx="7.5" ry="2" fill="#f2ea20" fill-opacity="0.9" transform="rotate(-28 682 462.38)" filter="url(#bl1)"/>
<ellipse cx="670.75" cy="471.75" rx="7.5" ry="1.75" fill="#f2ea20" fill-opacity="0.9" transform="rotate(-18 670.75 471.75)" filter="url(#bl1)"/>
<ellipse cx="686.38" cy="475.5" rx="2.75" ry="1.75" fill="#f2ea20" fill-opacity="0.9" transform="rotate(0 686.38 475.5)" filter="url(#bl1)"/>
<ellipse cx="682" cy="451.12" rx="2" ry="1.12" fill="#f2ea20" fill-opacity="0.9" transform="rotate(0 682 451.12)" filter="url(#bl1)"/>
<ellipse cx="682.62" cy="494.25" rx="4.25" ry="4.5" fill="#f2ea20" fill-opacity="0.95" transform="rotate(0 682.62 494.25)" filter="url(#bl1)"/>
<ellipse cx="683" cy="494" rx="1.75" ry="2" fill="#f08a1e" fill-opacity="0.9" transform="rotate(0 683 494)" filter="url(#bl1)"/>
<ellipse cx="658.88" cy="488.62" rx="1.25" ry="1" fill="#f2ea20" fill-opacity="0.9" transform="rotate(0 658.88 488.62)" filter="url(#bl1)"/>
<ellipse cx="687" cy="448" rx="1.25" ry="2.75" fill="#f2ea20" fill-opacity="0.8" transform="rotate(-25 687 448)" filter="url(#bl1)"/>
<path d="M580.5 432.38 L583.88 431.75 L586.38 433 L588.88 437.38 L594.5 438 L602 439 L606.38 440.75 L609.5 439.25 L615.12 439.25 L616.38 442.38 L618.88 444.88 L622 445.5 L625.75 443.62 L629.5 444.25 L632 446.12 L635.75 445.5 L638.25 448.62 L640.5 446.75 L643.25 443.62 L647 446.12 L650.75 445.5 L654.5 448 L657.62 449.25 L662 447.38 L667 445.5 L672 445.5 L675.75 444.25 L680.75 445.75 L685.12 444.88 L688.88 445.5" fill="none" stroke="#111" stroke-width="1.5" stroke-linejoin="round"/>
<ellipse cx="652" cy="442.38" rx="1.25" ry="1.75" fill="#fff" fill-opacity="0.9" transform="rotate(0 652 442.38)" filter="url(#bl1)"/>
<ellipse cx="646.75" cy="448" rx="1" ry="0.75" fill="#fff" fill-opacity="0.8" transform="rotate(0 646.75 448)" filter="url(#bl1)"/>
<circle cx="634.5" cy="471.75" r="2.6" fill="none" stroke="#000" stroke-width="0.8"/>
<line x1="629.9" y1="471.75" x2="639.1" y2="471.75" stroke="#000" stroke-width="0.9"/>
<line x1="634.5" y1="467.15" x2="634.5" y2="476.35" stroke="#000" stroke-width="0.9"/>
<rect x="592" y="490.5" width="85" height="10" fill="#fff" stroke="none" stroke-width="1" fill-opacity="0.85" rx="0.8"/>
<text x="593.2" y="497.5" font-size="7.5" fill="#2a2a2a" font-weight="bold">Valid: 03-10 | 18:00</text>
</g>
<rect x="580.5" y="394.4" width="108.5" height="108.25" fill="none" stroke="#6a6a6a" stroke-width="1"/>
<rect x="13.4" y="502.65" width="372.6" height="97.6" fill="#fff" stroke="#7a7a7a" stroke-width="1.1"/>
<g transform="translate(-0.5 -0.5)">
<text x="79" y="519.5" font-size="8.68" fill="#000" font-weight="bold" text-anchor="middle">SR-ECAPE</text>
<text x="136.9" y="519.5" font-size="8.68" fill="#000" font-weight="bold" text-anchor="middle">CAPE</text>
<text x="192.5" y="519.5" font-size="8.68" fill="#000" font-weight="bold" text-anchor="middle">6CAPE</text>
<text x="251.25" y="519.5" font-size="8.68" fill="#000" font-weight="bold" text-anchor="middle">3CAPE</text>
<text x="305.9" y="519.5" font-size="8.68" fill="#000" font-weight="bold" text-anchor="middle">CIN</text>
<text x="359.25" y="519.5" font-size="8.68" fill="#000" font-weight="bold" text-anchor="middle">LCL</text>
<text x="19.25" y="535.5" font-size="8.68" fill="#000" font-weight="bold">SB:</text>
<text x="55.5" y="535.5" font-size="8.68" fill="#b0273a" font-weight="bold">1944 J/kg</text>
<text x="115" y="535.5" font-size="8.68" fill="#ff4f10" font-weight="bold">2372 J/kg</text>
<text x="174.5" y="535.5" font-size="8.68" fill="#ff4f10" font-weight="bold">803 J/kg</text>
<text x="233.75" y="535.5" font-size="8.68" fill="#ff4f10" font-weight="bold">60 J/kg</text>
<text x="289.5" y="535.5" font-size="8.68" fill="#ff4f10" font-weight="bold">-66 J/kg</text>
<text x="345" y="535.5" font-size="8.68" fill="#ff4f10" font-weight="bold">483 m</text>
<text x="19.25" y="551.75" font-size="8.68" fill="#000" font-weight="bold">MU:</text>
<text x="55.5" y="551.75" font-size="8.68" fill="#b0273a" font-weight="bold">1944 J/kg</text>
<text x="115" y="551.75" font-size="8.68" fill="#ff4f10" font-weight="bold">2372 J/kg</text>
<text x="174.5" y="551.75" font-size="8.68" fill="#ff4f10" font-weight="bold">803 J/kg</text>
<text x="233.75" y="551.75" font-size="8.68" fill="#ff4f10" font-weight="bold">60 J/kg</text>
<text x="289.5" y="551.75" font-size="8.68" fill="#ff4f10" font-weight="bold">-66 J/kg</text>
<text x="345" y="551.75" font-size="8.68" fill="#ff4f10" font-weight="bold">483 m</text>
<text x="19.25" y="568" font-size="8.68" fill="#000" font-weight="bold">ML:</text>
<text x="55.5" y="568" font-size="8.68" fill="#b0273a" font-weight="bold">1379 J/kg</text>
<text x="115" y="568" font-size="8.68" fill="#ff4f10" font-weight="bold">1540 J/kg</text>
<text x="174.5" y="568" font-size="8.68" fill="#ff4f10" font-weight="bold">584 J/kg</text>
<text x="233.75" y="568" font-size="8.68" fill="#ff4f10" font-weight="bold">16 J/kg</text>
<text x="289.5" y="568" font-size="8.68" fill="#ff4f10" font-weight="bold">-133 J/kg</text>
<text x="345" y="568" font-size="8.68" fill="#ff4f10" font-weight="bold">507 m</text>
<text x="19.25" y="582" font-size="8.68" fill="#000" font-weight="bold">DCAPE:</text>
<text x="60" y="582" font-size="8.68" fill="#6495ed" font-weight="bold" fill-opacity="0.65">719 J/kg</text>
<text x="19.25" y="593" font-size="8.68" fill="#000" font-weight="bold">DCIN:</text>
<text x="60" y="593" font-size="8.68" fill="#6495ed" font-weight="bold" fill-opacity="0.65">0 J/kg</text>
<text x="120.5" y="590" font-size="8.68" fill="#000" font-weight="bold">MUNCAPE:</text>
<text x="173.25" y="590" font-size="8.68" fill="#c06470" font-weight="bold">0.2</text>
<text x="207.5" y="590" font-size="8.68" font-weight="bold">Γ<tspan font-size="5.3" dy="0.9" letter-spacing="0.35">0−3</tspan><tspan dy="-0.9">:</tspan></text>
<text x="235.2" y="590" font-size="8.55" fill="#8b4513" font-weight="bold">6 Δ°C/km</text>
<text x="290" y="590" font-size="8.68" font-weight="bold">Γ<tspan font-size="5.3" dy="0.9" letter-spacing="0.35">3−6</tspan><tspan dy="-0.9">:</tspan></text>
<text x="320.9" y="590" font-size="8.55" fill="#8b4513" font-weight="bold">7 Δ°C/km</text>
</g>
<text x="56.25" y="615" font-size="11.56" fill="#6495ed" font-weight="bold" fill-opacity="0.6">SOUNDERPY VERTICAL PROFILE ANALYSIS TOOL</text>
<text x="94.6" y="625.3" font-size="8.73" fill="#6495ed" font-weight="bold" fill-opacity="0.6">KYLE J GILLETT | sounderpysoundings.anvil.app</text>
<circle cx="32.05" cy="616.5" r="13.6" fill="#e6e9f3" stroke="#858585" stroke-width="0.8"/>
<text x="19.3" y="615.4" font-size="4.3" fill="#1a1a1a" font-weight="bold">SOUNDER</text>
<text x="32.6" y="622" font-size="9" fill="#4a9e3a">P</text>
<text x="38.3" y="622" font-size="9" fill="#e03030">Y</text>
<text x="32" y="627.3" font-size="2.7" fill="#444" text-anchor="middle">VERTICAL</text>
<rect x="386" y="502.65" width="137.9" height="124.35" fill="#fff" stroke="#7a7a7a" stroke-width="1.1"/>
<text x="449.9" y="519" font-size="8.68" fill="#000" font-weight="bold" text-anchor="middle">RH(%)</text>
<text x="490" y="519" font-size="8.68" fill="#000" font-weight="bold" text-anchor="middle">ω</text>
<text x="395" y="535.5" font-size="8.68" font-weight="bold">0-.5<tspan font-size="5.6">km</tspan>:</text>
<line x1="396.2" y1="526.3" x2="409.2" y2="526.3" stroke="#000" stroke-width="0.8"/>
<text x="436.5" y="535.5" font-size="8.68" fill="#228b22" font-weight="bold" fill-opacity="1.0">87 %</text>
<text x="468.5" y="535.5" font-size="8.68" fill="#228b22" font-weight="bold" fill-opacity="1.0">14.6 g/kg</text>
<text x="395" y="551.75" font-size="8.68" font-weight="bold">0-1<tspan font-size="5.6">km</tspan>:</text>
<line x1="396.2" y1="542.55" x2="409.2" y2="542.55" stroke="#000" stroke-width="0.8"/>
<text x="436.5" y="551.75" font-size="8.68" fill="#228b22" font-weight="bold" fill-opacity="0.95">90 %</text>
<text x="468.5" y="551.75" font-size="8.68" fill="#228b22" font-weight="bold" fill-opacity="0.95">14.2 g/kg</text>
<text x="395" y="568" font-size="8.68" font-weight="bold">1-3<tspan font-size="5.6">km</tspan>:</text>
<line x1="396.2" y1="558.8" x2="409.2" y2="558.8" stroke="#000" stroke-width="0.8"/>
<text x="436.5" y="568" font-size="8.68" fill="#228b22" font-weight="bold" fill-opacity="0.8">58 %</text>
<text x="468.5" y="568" font-size="8.68" fill="#228b22" font-weight="bold" fill-opacity="0.8">7.8 g/kg</text>
<text x="395" y="584.25" font-size="8.68" font-weight="bold">3-6<tspan font-size="5.6">km</tspan>:</text>
<line x1="396.2" y1="575.05" x2="409.2" y2="575.05" stroke="#000" stroke-width="0.8"/>
<text x="436.5" y="584.25" font-size="8.68" fill="#228b22" font-weight="bold" fill-opacity="0.7">82 %</text>
<text x="468.5" y="584.25" font-size="8.68" fill="#228b22" font-weight="bold" fill-opacity="0.7">3.8 g/kg</text>
<text x="395" y="600.5" font-size="8.68" font-weight="bold">6-9<tspan font-size="5.6">km</tspan>:</text>
<line x1="396.2" y1="591.3" x2="409.2" y2="591.3" stroke="#000" stroke-width="0.8"/>
<text x="436.5" y="600.5" font-size="8.68" fill="#228b22" font-weight="bold" fill-opacity="0.6">78 %</text>
<text x="468.5" y="600.5" font-size="8.68" fill="#228b22" font-weight="bold" fill-opacity="0.6">1.2 g/kg</text>
<text x="395.5" y="612.6" font-size="6.8" fill="#000" font-weight="bold">PWAT:</text>
<text x="430.5" y="612.6" font-size="6.8" fill="#228b22" font-weight="bold">1.6 in</text>
<text x="465.5" y="612.6" font-size="6.8" fill="#000" font-weight="bold">WB:</text>
<text x="490.5" y="612.6" font-size="6.8" fill="#228b22" font-weight="bold">21 °C</text>
<text x="395.5" y="623.6" font-size="6.8" fill="#000" font-weight="bold">FRZ:</text>
<text x="428" y="623.6" font-size="6.8" fill="#6495ed" font-weight="bold">3700m</text>
<text x="463" y="623.6" font-size="6.8" fill="#000" font-weight="bold">WB0:</text>
<text x="488.5" y="623.6" font-size="6.8" fill="#6495ed" font-weight="bold">3500m</text>
<rect x="523.9" y="502.65" width="243.6" height="124.35" fill="#fff" stroke="#7a7a7a" stroke-width="1.1"/>
<text x="585.5" y="519" font-size="8.68" fill="#2a2a2a" font-weight="bold" text-anchor="middle">BWD</text>
<text x="628.5" y="519" font-size="8.68" fill="#2a2a2a" font-weight="bold" text-anchor="middle">SRH</text>
<text x="671" y="519" font-size="8.68" fill="#2a2a2a" font-weight="bold" text-anchor="middle">SRW</text>
<text x="706" y="519" font-size="8.68" fill="#2a2a2a" font-weight="bold" text-anchor="middle">SWζ%</text>
<text x="743.5" y="519" font-size="8.68" fill="#2a2a2a" font-weight="bold" text-anchor="middle">SWζ</text>
<text x="532.5" y="535.5" font-size="8.68" font-weight="bold" fill="#1a1a1a">0-.5<tspan font-size="5.6">km</tspan>:</text>
<text x="571.75" y="535.5" font-size="8.68" fill="#6495ed" font-weight="bold">21 kt</text>
<text x="605.5" y="535.5" font-size="8.68" fill="#6495ed" font-weight="bold">146 m²/s²</text>
<text x="660" y="535.5" font-size="8.68" fill="#6495ed" font-weight="bold">28 kt</text>
<text x="704" y="535.5" font-size="8.68" fill="#6495ed" font-weight="bold" text-anchor="middle">94</text>
<text x="730.5" y="535.5" font-size="8.68" fill="#6495ed" font-weight="bold">0.021</text>
<text x="532.5" y="551.75" font-size="8.68" font-weight="bold" fill="#1a1a1a">0-1<tspan font-size="5.6">km</tspan>:</text>
<text x="571.75" y="551.75" font-size="8.68" fill="#6495ed" font-weight="bold">33 kt</text>
<text x="605.5" y="551.75" font-size="8.68" fill="#6495ed" font-weight="bold">233 m²/s²</text>
<text x="660" y="551.75" font-size="8.68" fill="#6495ed" font-weight="bold">28 kt</text>
<text x="704" y="551.75" font-size="8.68" fill="#6495ed" font-weight="bold" text-anchor="middle">96</text>
<text x="730.5" y="551.75" font-size="8.68" fill="#6495ed" font-weight="bold">0.017</text>
<text x="532.5" y="568" font-size="8.68" font-weight="bold" fill="#1a1a1a">1-3<tspan font-size="5.6">km</tspan>:</text>
<text x="571.75" y="568" font-size="8.68" fill="#6495ed" font-weight="bold">24 kt</text>
<text x="605.5" y="568" font-size="8.68" fill="#6495ed" font-weight="bold">-90 m²/s²</text>
<text x="660" y="568" font-size="8.68" fill="#6495ed" font-weight="bold">18 kt</text>
<text x="704" y="568" font-size="8.68" fill="#6495ed" font-weight="bold" text-anchor="middle">70</text>
<text x="730.5" y="568" font-size="8.68" fill="#6495ed" font-weight="bold">0.005</text>
<text x="532.5" y="584.25" font-size="8.68" font-weight="bold" fill="#1a1a1a">3-6<tspan font-size="5.6">km</tspan>:</text>
<text x="571.75" y="584.25" font-size="8.68" fill="#6495ed" font-weight="bold">20 kt</text>
<text x="605.5" y="584.25" font-size="8.68" fill="#6495ed" font-weight="bold">-2 m²/s²</text>
<text x="660" y="584.25" font-size="8.68" fill="#6495ed" font-weight="bold">12 kt</text>
<text x="704" y="584.25" font-size="8.68" fill="#6495ed" font-weight="bold" text-anchor="middle">76</text>
<text x="730.5" y="584.25" font-size="8.68" fill="#6495ed" font-weight="bold">0.004</text>
<text x="532.5" y="600.5" font-size="8.68" font-weight="bold" fill="#1a1a1a">6-9<tspan font-size="5.6">km</tspan>:</text>
<text x="571.75" y="600.5" font-size="8.68" fill="#6495ed" font-weight="bold">22 kt</text>
<text x="605.5" y="600.5" font-size="8.68" fill="#6495ed" font-weight="bold">40 m²/s²</text>
<text x="660" y="600.5" font-size="8.68" fill="#6495ed" font-weight="bold">25 kt</text>
<text x="704" y="600.5" font-size="8.68" fill="#6495ed" font-weight="bold" text-anchor="middle">66</text>
<text x="730.5" y="600.5" font-size="8.68" fill="#6495ed" font-weight="bold">0.004</text>
<text x="532.5" y="616.75" font-size="8.68" fill="#1a1a1a" font-weight="bold">EIL:</text>
<text x="571.75" y="616.75" font-size="8.68" fill="#6495ed" font-weight="bold">23 kt</text>
<text x="605.5" y="616.75" font-size="8.68" fill="#6495ed" font-weight="bold">187 m²/s²</text>
<text x="660" y="616.75" font-size="8.68" fill="#6495ed" font-weight="bold">24 kt</text>
<text x="704" y="616.75" font-size="8.68" fill="#6495ed" font-weight="bold" text-anchor="middle">83</text>
<text x="730.5" y="616.75" font-size="8.68" fill="#6495ed" font-weight="bold">0.012</text>
<rect x="767.5" y="502.4" width="240" height="125.1" fill="#fff" stroke="none" stroke-width="1"/>
<defs><clipPath id="mnc"><rect x="767.5" y="502.4" width="240" height="125.1"/></clipPath></defs>
<g clip-path="url(#mnc)">
<rect x="767.5" y="553.75" width="240" height="73.75" fill="#add8e6" stroke="none" stroke-width="1" fill-opacity="0.2"/>
<line x1="767.5" y1="607.28" x2="1007.5" y2="607.28" stroke="#c9c9c9" stroke-width="0.8"/>
<line x1="767.5" y1="586.35" x2="1007.5" y2="586.35" stroke="#c9c9c9" stroke-width="0.8"/>
<line x1="767.5" y1="565.43" x2="1007.5" y2="565.43" stroke="#c9c9c9" stroke-width="0.8"/>
<line x1="767.5" y1="544.5" x2="1007.5" y2="544.5" stroke="#c9c9c9" stroke-width="0.8"/>
<line x1="767.5" y1="523.58" x2="1007.5" y2="523.58" stroke="#c9c9c9" stroke-width="0.8"/>
<path d="M767.5 627.5 L767.5 515.4 L803.75 519.1 L813.1 523.25 L806.5 527.5 L825 531.9 L796.25 540 L813.75 548.5 L815 552.25 L780 564.75 L781.9 568.9 L797.5 572.9 L807.5 577.5 L767.5 581.9 L825 586 L824.75 593.5 L819.4 598.5 L824.4 603.5 L825.6 608.5 L824.4 616 L817.5 623.5 L811.25 627.5 L767.5 627.5 Z" fill="#6495ed" stroke="none" stroke-width="1" fill-opacity="0.2"/>
<path d="M767.5 510.4 L767.5 515.4 L803.75 519.1 L813.1 523.25 L806.5 527.5 L825 531.9 L796.25 540 L813.75 548.5 L815 552.25 L780 564.75 L781.9 568.9 L797.5 572.9 L807.5 577.5 L767.5 581.9 L825 586" fill="none" stroke="#ff1a1a" stroke-width="1.7" stroke-linejoin="round"/>
<path d="M825 586 L824.75 593.5 L819.4 598.5 L824.4 603.5 L825.6 608.5 L824.4 616 L817.5 623.5 L811.25 627.5" fill="none" stroke="#8b1a9b" stroke-width="1.7" stroke-linejoin="round"/>
<path d="M827.5 627.5 L827.5 502.5 L830.6 502.5 L832.5 508.5 L831.9 516 L835 536 L839.4 552.25 L840 556 L836.9 566 L834.4 577.25 L830 581.9 L829.5 581.9 L837.5 589.75 L836.25 594.75 L838.1 598.5 L849.4 606.6 L848.8 617 L848.5 627.5 L827.5 627.5 Z" fill="#b8923e" stroke="none" stroke-width="1" fill-opacity="0.3"/>
<path d="M830.6 502.5 L832.5 508.5 L831.9 516 L835 536 L839.4 552.25 L840 556 L836.9 566 L834.4 577.25 L830 581.9" fill="none" stroke="#8a8a8a" stroke-width="1.7" stroke-linejoin="round"/>
<path d="M828.1 502.5 L829.4 514.75 L832.5 537.25 L835 546 L838.1 552.9 L837.5 556.6 L833.75 561 L832.2 568.5 L832.25 572.25 L828.75 581.9" fill="none" stroke="#f5a81e" stroke-width="1.5" stroke-linejoin="round"/>
<path d="M829.5 581.9 L837.5 589.75 L836.25 594.75 L838.1 598.5 L849.4 606.6 L848.8 617 L848.5 627.5" fill="none" stroke="#9c712c" stroke-width="1.8" stroke-linejoin="round"/>
<path d="M848.7 617 L847.5 622 L846.25 627.5" fill="none" stroke="#f5a81e" stroke-width="1.4"/>
<path d="M887.5 627.5 L887.5 502.5 L892.5 514.75 L893.5 522.25 L891.9 532.25 L893.1 538.5 L898.75 552.9 L903.75 563.5 L908.75 569.75 L911.9 578.5 L913.1 586 L912.75 596 L911 602.25 L911 611 L913.1 619.75 L917.5 627.25 L917.5 627.5 Z" fill="#6495ed" stroke="none" stroke-width="1" fill-opacity="0.2"/>
<path d="M887.5 502.5 L892.5 514.75 L893.5 522.25 L891.9 532.25 L893.1 538.5 L898.75 552.9 L903.75 563.5 L908.75 569.75 L911.9 578.5 L913.1 586" fill="none" stroke="#ff2a2a" stroke-width="1.7" stroke-linejoin="round"/>
<path d="M913.1 586 L912.75 596 L911 602.25 L911 611 L913.1 619.75 L917.5 627.25" fill="none" stroke="#9a2aa6" stroke-width="1.7" stroke-linejoin="round"/>
<path d="M977.5 517 L976.9 519.75 L973.75 531 L973.1 543.5 L972.5 553.5 L972.5 556 L974 568.5 L975 589.75 L966.25 594 L965 599.75 L963.5 609.75 L965 621 L968.75 626 L971.25 627.5 L977.5 627.5 Z" fill="#6fb3b8" stroke="none" stroke-width="1" fill-opacity="0.85"/>
<path d="M977.5 546 L982.2 557.5 L990 569.75 L996.25 586 L999.75 589.75 L994.4 594.75 L993.1 606 L992.5 616 L993.75 624.1 L998.75 627.25 L977.5 627.5 Z" fill="#ff9933" stroke="none" stroke-width="1" fill-opacity="0.95"/>
<line x1="977.4" y1="502.4" x2="977.4" y2="627.5" stroke="#4a90c8" stroke-width="0.7" stroke-dasharray="0.8 1.1"/>
</g>
<rect x="767.5" y="502.4" width="60" height="125.1" fill="none" stroke="#7a7a7a" stroke-width="1.1"/>
<rect x="827.5" y="502.4" width="60" height="125.1" fill="none" stroke="#7a7a7a" stroke-width="1.1"/>
<rect x="887.5" y="502.4" width="60.25" height="125.1" fill="none" stroke="#7a7a7a" stroke-width="1.1"/>
<rect x="947.75" y="502.4" width="59.75" height="125.1" fill="none" stroke="#7a7a7a" stroke-width="1.1"/>
<text x="797.6" y="512.2" font-size="5.85" fill="#111" font-weight="bold" text-anchor="middle">Streamwiseness</text>
<text x="797.6" y="519.1" font-size="5.85" fill="#111" font-weight="bold" text-anchor="middle">of ζ (%)</text>
<text x="857.2" y="515.3" font-size="7" fill="#111" font-weight="bold" text-anchor="middle">Total ζ &amp;</text>
<text x="857.2" y="522.8" font-size="7" fill="#111" font-weight="bold" text-anchor="middle">Streamwise ζ</text>
<text x="857.2" y="529.7" font-size="7" fill="#111" font-weight="bold" text-anchor="middle">(/sec)</text>
<text x="917.1" y="517.5" font-size="7" fill="#111" font-weight="bold" text-anchor="middle">Storm Relative</text>
<text x="917.1" y="524.5" font-size="7" fill="#111" font-weight="bold" text-anchor="middle">Wind (kts)</text>
<text x="977.8" y="515.3" font-size="7" fill="#111" font-weight="bold" text-anchor="middle">Stepwise</text>
<text x="977.8" y="522.8" font-size="7" fill="#111" font-weight="bold" text-anchor="middle">CIN &amp; CAPE</text>
<text x="977.8" y="529.9" font-size="7" fill="#111" font-weight="bold" text-anchor="middle">(J/kg)</text>
<text x="774" y="544.6" font-size="5.8" fill="#000" font-weight="bold">2 km</text>
<text x="774" y="565.43" font-size="5.8" fill="#000" font-weight="bold">1.5 km</text>
<text x="774" y="586.05" font-size="5.8" fill="#000" font-weight="bold">1 km</text>
<text x="774" y="606.68" font-size="5.8" fill="#000" font-weight="bold">.5 km</text>
<text x="933.1" y="540.6" font-size="5.6" fill="#000" font-weight="bold">-LFC</text>
<text x="933.1" y="607.6" font-size="5.6" fill="#000" font-weight="bold">-LCL-</text>
<text x="776.7" y="625.1" font-size="6.2" fill="#6e6e6e" text-anchor="middle" font-style="italic" fill-opacity="0.85">50</text>
<line x1="776.7" y1="627.5" x2="776.7" y2="625.7" stroke="#444" stroke-width="0.7"/>
<text x="796.2" y="625.1" font-size="6.2" fill="#6e6e6e" text-anchor="middle" font-style="italic" fill-opacity="0.85">70</text>
<line x1="796.2" y1="627.5" x2="796.2" y2="625.7" stroke="#444" stroke-width="0.7"/>
<text x="815.3" y="625.1" font-size="6.2" fill="#6e6e6e" text-anchor="middle" font-style="italic" fill-opacity="0.85">90</text>
<line x1="815.3" y1="627.5" x2="815.3" y2="625.7" stroke="#444" stroke-width="0.7"/>
<text x="836.4" y="625.1" font-size="6.2" fill="#6e6e6e" text-anchor="middle" font-style="italic" fill-opacity="0.85">.01</text>
<line x1="836.9" y1="627.5" x2="836.9" y2="625.7" stroke="#444" stroke-width="0.7"/>
<text x="856.75" y="625.1" font-size="6.2" fill="#6e6e6e" text-anchor="middle" font-style="italic" fill-opacity="0.85">.03</text>
<line x1="857.25" y1="627.5" x2="857.25" y2="625.7" stroke="#444" stroke-width="0.7"/>
<text x="877" y="625.1" font-size="6.2" fill="#6e6e6e" text-anchor="middle" font-style="italic" fill-opacity="0.85">.05</text>
<line x1="877.5" y1="627.5" x2="877.5" y2="625.7" stroke="#444" stroke-width="0.7"/>
<text x="902.25" y="625.1" font-size="6.2" fill="#6e6e6e" text-anchor="middle" font-style="italic" fill-opacity="0.85">20</text>
<line x1="902.25" y1="627.5" x2="902.25" y2="625.7" stroke="#444" stroke-width="0.7"/>
<text x="918.1" y="625.1" font-size="6.2" fill="#6e6e6e" text-anchor="middle" font-style="italic" fill-opacity="0.85">30</text>
<line x1="918.1" y1="627.5" x2="918.1" y2="625.7" stroke="#444" stroke-width="0.7"/>
<text x="933.1" y="625.1" font-size="6.2" fill="#6e6e6e" text-anchor="middle" font-style="italic" fill-opacity="0.85">40</text>
<line x1="933.1" y1="627.5" x2="933.1" y2="625.7" stroke="#444" stroke-width="0.7"/>
<text transform="translate(959.2 622.3) rotate(-45)" font-size="6.2" font-style="italic" fill="#6e6e6e" fill-opacity="0.85" text-anchor="middle">-200</text>
<line x1="957.5" y1="627.5" x2="957.5" y2="625.7" stroke="#444" stroke-width="0.7"/>
<text transform="translate(969.2 622.3) rotate(-45)" font-size="6.2" font-style="italic" fill="#6e6e6e" fill-opacity="0.85" text-anchor="middle">-100</text>
<line x1="967.5" y1="627.5" x2="967.5" y2="625.7" stroke="#444" stroke-width="0.7"/>
<text transform="translate(979.2 622.3) rotate(-45)" font-size="6.2" font-style="italic" fill="#6e6e6e" fill-opacity="0.85" text-anchor="middle">0</text>
<line x1="977.5" y1="627.5" x2="977.5" y2="625.7" stroke="#444" stroke-width="0.7"/>
<text transform="translate(989.2 622.3) rotate(-45)" font-size="6.2" font-style="italic" fill="#6e6e6e" fill-opacity="0.85" text-anchor="middle">1k</text>
<line x1="987.5" y1="627.5" x2="987.5" y2="625.7" stroke="#444" stroke-width="0.7"/>
<text transform="translate(999.2 622.3) rotate(-45)" font-size="6.2" font-style="italic" fill="#6e6e6e" fill-opacity="0.85" text-anchor="middle">2k</text>
<line x1="997.5" y1="627.5" x2="997.5" y2="625.7" stroke="#444" stroke-width="0.7"/>
<line x1="519.4" y1="64.1" x2="519.4" y2="508.7" stroke="#8a8a8a" stroke-width="1"/>
<g stroke="#000" stroke-width="0.95" fill="#000" stroke-linejoin="miter">
<path d="M504.16 101.47 L502.05 94.4 L507.97 98.8 Z" stroke-width="0.4"/>
<path d="M519.4 90.8 L504.16 101.47 M509.86 97.48 L503.94 93.08 M511.74 96.16 L505.82 91.76 M513.62 94.84 L507.71 90.44" fill="none"/>
<circle cx="519.4" cy="90.8" r="1.3" stroke="none"/>
<path d="M504.45 109.31 L502.15 102.3 L508.19 106.55 Z" stroke-width="0.4"/>
<path d="M519.4 98.25 L504.45 109.31 M510.04 105.18 L504 100.94 M511.88 103.81 L505.85 99.57 M513.73 102.44 L507.7 98.2" fill="none"/>
<circle cx="519.4" cy="98.25" r="1.3" stroke="none"/>
<path d="M503.24 128.32 L501.79 121.08 L507.28 126.01 Z" stroke-width="0.4"/>
<path d="M519.4 119.1 L503.24 128.32 M509.28 124.87 L503.79 119.94 M511.28 123.73 L505.79 118.8 M513.28 122.59 L510.53 120.13" fill="none"/>
<circle cx="519.4" cy="119.1" r="1.3" stroke="none"/>
<path d="M503.29 150.9 L501.81 143.68 L507.32 148.57 Z" stroke-width="0.4"/>
<path d="M508.31 148 L506.83 140.78 L512.34 145.67 Z" stroke-width="0.4"/>
<path d="M519.4 141.6 L503.29 150.9 M514.33 144.53 L511.58 142.08" fill="none"/>
<circle cx="519.4" cy="141.6" r="1.3" stroke="none"/>
<path d="M503.93 158.12 L501.98 151.01 L507.79 155.54 Z" stroke-width="0.4"/>
<path d="M508.75 154.9 L506.8 147.79 L512.62 152.32 Z" stroke-width="0.4"/>
<path d="M519.4 147.8 L503.93 158.12 M514.53 151.05 L508.71 146.51" fill="none"/>
<circle cx="519.4" cy="147.8" r="1.3" stroke="none"/>
<path d="M504.51 170.54 L502.17 163.54 L508.23 167.76 Z" stroke-width="0.4"/>
<path d="M509.15 167.07 L506.82 160.07 L512.87 164.28 Z" stroke-width="0.4"/>
<path d="M519.4 159.4 L504.51 170.54 M514.72 162.9 L508.66 158.69 M516.56 161.53 L510.5 157.31" fill="none"/>
<circle cx="519.4" cy="159.4" r="1.3" stroke="none"/>
<path d="M505.8 185.49 L502.72 178.78 L509.2 182.31 Z" stroke-width="0.4"/>
<path d="M510.04 181.53 L506.97 174.82 L513.44 178.36 Z" stroke-width="0.4"/>
<path d="M519.4 172.8 L505.8 185.49 M515.12 176.79 L511.88 175.02" fill="none"/>
<circle cx="519.4" cy="172.8" r="1.3" stroke="none"/>
<path d="M505.32 201.55 L502.51 194.74 L508.84 198.52 Z" stroke-width="0.4"/>
<path d="M509.71 197.76 L506.9 190.95 L513.23 194.73 Z" stroke-width="0.4"/>
<path d="M519.4 189.4 L505.32 201.55 M514.97 193.22 L511.8 191.33" fill="none"/>
<circle cx="519.4" cy="189.4" r="1.3" stroke="none"/>
<path d="M505.47 215.02 L502.57 208.24 L508.95 211.94 Z" stroke-width="0.4"/>
<path d="M509.81 211.18 L506.92 204.4 L513.3 208.1 Z" stroke-width="0.4"/>
<path d="M519.4 202.7 L505.47 215.02" fill="none"/>
<circle cx="519.4" cy="202.7" r="1.3" stroke="none"/>
<path d="M504.7 227.3 L502.25 220.34 L508.38 224.45 Z" stroke-width="0.4"/>
<path d="M519.4 215.9 L504.7 227.3 M510.19 223.04 L504.07 218.93 M512.01 221.63 L505.88 217.52 M513.83 220.22 L507.7 216.11 M515.65 218.81 L512.58 216.76" fill="none"/>
<circle cx="519.4" cy="215.9" r="1.3" stroke="none"/>
<path d="M505.21 242.03 L502.46 235.19 L508.76 239.02 Z" stroke-width="0.4"/>
<path d="M519.4 230 L505.21 242.03 M510.51 237.54 L504.21 233.7 M512.27 236.05 L505.97 232.21 M514.02 234.56 L507.72 230.72" fill="none"/>
<circle cx="519.4" cy="230" r="1.3" stroke="none"/>
<path d="M505.47 254.62 L502.57 247.84 L508.95 251.54 Z" stroke-width="0.4"/>
<path d="M519.4 242.3 L505.47 254.62 M510.67 250.02 L504.3 246.32 M512.4 248.5 L506.02 244.79 M514.12 246.97 L510.93 245.12" fill="none"/>
<circle cx="519.4" cy="242.3" r="1.3" stroke="none"/>
<path d="M506.86 271.44 L503.26 265 L509.99 268 Z" stroke-width="0.4"/>
<path d="M519.4 257.7 L506.86 271.44 M511.54 266.3 L504.81 263.3 M513.1 264.6 L509.73 263.1" fill="none"/>
<circle cx="519.4" cy="257.7" r="1.3" stroke="none"/>
<path d="M507.2 280.94 L503.44 274.59 L510.25 277.43 Z" stroke-width="0.4"/>
<path d="M519.4 266.9 L507.2 280.94 M511.76 275.69 L504.95 272.85 M513.27 273.96 L506.46 271.12" fill="none"/>
<circle cx="519.4" cy="266.9" r="1.3" stroke="none"/>
<path d="M505.98 297.97 L502.81 291.31 L509.33 294.76 Z" stroke-width="0.4"/>
<path d="M519.4 285.1 L505.98 297.97 M510.99 293.16 L504.47 289.72 M512.65 291.57 L509.39 289.85" fill="none"/>
<circle cx="519.4" cy="285.1" r="1.3" stroke="none"/>
<path d="M506.79 313.57 L503.22 307.11 L509.94 310.15 Z" stroke-width="0.4"/>
<path d="M519.4 299.9 L506.79 313.57 M511.5 308.46 L504.78 305.42" fill="none"/>
<circle cx="519.4" cy="299.9" r="1.3" stroke="none"/>
<path d="M507.27 327.1 L503.48 320.77 L510.3 323.58 Z" stroke-width="0.4"/>
<path d="M519.4 313 L507.27 327.1 M511.8 321.83 L504.98 319.03" fill="none"/>
<circle cx="519.4" cy="313" r="1.3" stroke="none"/>
<path d="M508.41 340.31 L504.14 334.3 L511.16 336.56 Z" stroke-width="0.4"/>
<path d="M519.4 325.3 L508.41 340.31 M512.52 334.7 L509.01 333.57" fill="none"/>
<circle cx="519.4" cy="325.3" r="1.3" stroke="none"/>
<path d="M506.09 353.49 L502.86 346.86 L509.42 350.24 Z" stroke-width="0.4"/>
<path d="M519.4 340.5 L506.09 353.49" fill="none"/>
<circle cx="519.4" cy="340.5" r="1.3" stroke="none"/>
<path d="M503.94 367.05 L501.98 359.94 L507.81 364.46 Z" stroke-width="0.4"/>
<path d="M519.4 356.7 L503.94 367.05" fill="none"/>
<circle cx="519.4" cy="356.7" r="1.3" stroke="none"/>
<path d="M519.4 367.8 L503.57 377.57 M503.57 377.57 L497.92 372.84 M505.53 376.37 L499.88 371.63 M507.49 375.16 L501.83 370.42 M509.45 373.95 L503.79 369.21 M511.4 372.74 L508.57 370.37" fill="none"/>
<circle cx="519.4" cy="367.8" r="1.3" stroke="none"/>
<path d="M519.4 381.9 L503.87 392.14 M503.87 392.14 L498.08 387.57 M505.79 390.87 L500 386.31 M507.71 389.61 L501.92 385.04 M509.63 388.34 L503.84 383.78" fill="none"/>
<circle cx="519.4" cy="381.9" r="1.3" stroke="none"/>
<path d="M519.4 396.1 L503.98 406.5 M503.98 406.5 L498.14 402 M505.89 405.21 L500.04 400.71 M507.79 403.93 L501.95 399.43 M509.7 402.64 L506.78 400.39" fill="none"/>
<circle cx="519.4" cy="396.1" r="1.3" stroke="none"/>
<path d="M519.4 410.2 L504.05 420.71 M504.05 420.71 L498.18 416.25 M505.95 419.41 L500.08 414.95 M507.85 418.11 L504.91 415.88" fill="none"/>
<circle cx="519.4" cy="410.2" r="1.3" stroke="none"/>
<path d="M519.4 422.9 L504.26 433.7 M504.26 433.7 L498.3 429.35 M506.13 432.37 L500.17 428.02 M508 431.03 L505.02 428.86" fill="none"/>
<circle cx="519.4" cy="422.9" r="1.3" stroke="none"/>
<path d="M519.4 437.5 L505.98 450.37 M505.98 450.37 L499.45 446.93 M507.64 448.78 L501.11 445.34 M509.3 447.19 L506.03 445.47" fill="none"/>
<circle cx="519.4" cy="437.5" r="1.3" stroke="none"/>
<path d="M519.4 451.1 L509.65 466.94 M509.65 466.94 L502.47 465.25 M510.86 464.98 L503.68 463.3 M512.06 463.02 L504.88 461.34" fill="none"/>
<circle cx="519.4" cy="451.1" r="1.3" stroke="none"/>
<path d="M519.4 467.7 L511.75 484.65 M511.75 484.65 L504.41 483.89 M512.69 482.56 L505.36 481.79 M513.64 480.46 L506.3 479.7 M514.59 478.36 L510.92 477.98" fill="none"/>
<circle cx="519.4" cy="467.7" r="1.3" stroke="none"/>
<path d="M519.4 479 L513.74 496.72 M513.74 496.72 L506.37 496.81 M514.44 494.53 L507.07 494.62 M515.14 492.34 L511.46 492.38" fill="none"/>
<circle cx="519.4" cy="479" r="1.3" stroke="none"/>
<path d="M519.4 490.7 L519.4 509.3 M519.4 509.3 L512.4 511.62" fill="none"/>
<circle cx="519.4" cy="490.7" r="1.3" stroke="none"/>
</g>
<rect x="13.4" y="41.1" width="530.1" height="461.55" fill="none" stroke="#7a7a7a" stroke-width="1.1"/>
<text x="17.2" y="496.27" font-size="7" fill="#000" font-weight="bold">1000</text>
<line x1="13.4" y1="493.07" x2="16.2" y2="493.07" stroke="#000" stroke-width="0.8"/>
<text x="17.2" y="475.59" font-size="7" fill="#000" font-weight="bold">900</text>
<line x1="13.4" y1="472.39" x2="16.2" y2="472.39" stroke="#000" stroke-width="0.8"/>
<text x="17.2" y="452.47" font-size="7" fill="#000" font-weight="bold">800</text>
<line x1="13.4" y1="449.27" x2="16.2" y2="449.27" stroke="#000" stroke-width="0.8"/>
<text x="17.2" y="426.26" font-size="7" fill="#000" font-weight="bold">700</text>
<line x1="13.4" y1="423.06" x2="16.2" y2="423.06" stroke="#000" stroke-width="0.8"/>
<text x="17.2" y="396" font-size="7" fill="#000" font-weight="bold">600</text>
<line x1="13.4" y1="392.8" x2="16.2" y2="392.8" stroke="#000" stroke-width="0.8"/>
<text x="17.2" y="360.21" font-size="7" fill="#000" font-weight="bold">500</text>
<line x1="13.4" y1="357.01" x2="16.2" y2="357.01" stroke="#000" stroke-width="0.8"/>
<text x="17.2" y="316.4" font-size="7" fill="#000" font-weight="bold">400</text>
<line x1="13.4" y1="313.2" x2="16.2" y2="313.2" stroke="#000" stroke-width="0.8"/>
<text x="17.2" y="259.93" font-size="7" fill="#000" font-weight="bold">300</text>
<line x1="13.4" y1="256.73" x2="16.2" y2="256.73" stroke="#000" stroke-width="0.8"/>
<text x="17.2" y="180.34" font-size="7" fill="#000" font-weight="bold">200</text>
<line x1="13.4" y1="177.14" x2="16.2" y2="177.14" stroke="#000" stroke-width="0.8"/>
<text x="52.95" y="502.05" font-size="7" fill="#000" font-weight="bold" text-anchor="middle">−20</text>
<text x="109.2" y="502.05" font-size="7" fill="#000" font-weight="bold" text-anchor="middle">−10</text>
<text x="165.45" y="502.05" font-size="7" fill="#000" font-weight="bold" text-anchor="middle">0</text>
<text x="221.7" y="502.05" font-size="7" fill="#000" font-weight="bold" text-anchor="middle">10</text>
<text x="277.95" y="502.05" font-size="7" fill="#000" font-weight="bold" text-anchor="middle">20</text>
<text x="334.2" y="502.05" font-size="7" fill="#000" font-weight="bold" text-anchor="middle">30</text>
<text x="390.45" y="502.05" font-size="7" fill="#000" font-weight="bold" text-anchor="middle">40</text>
<text x="446.7" y="502.05" font-size="7" fill="#000" font-weight="bold" text-anchor="middle">50</text>
<text x="502.95" y="502.05" font-size="7" fill="#000" font-weight="bold" text-anchor="middle">60</text>
</svg>
</body></html>
